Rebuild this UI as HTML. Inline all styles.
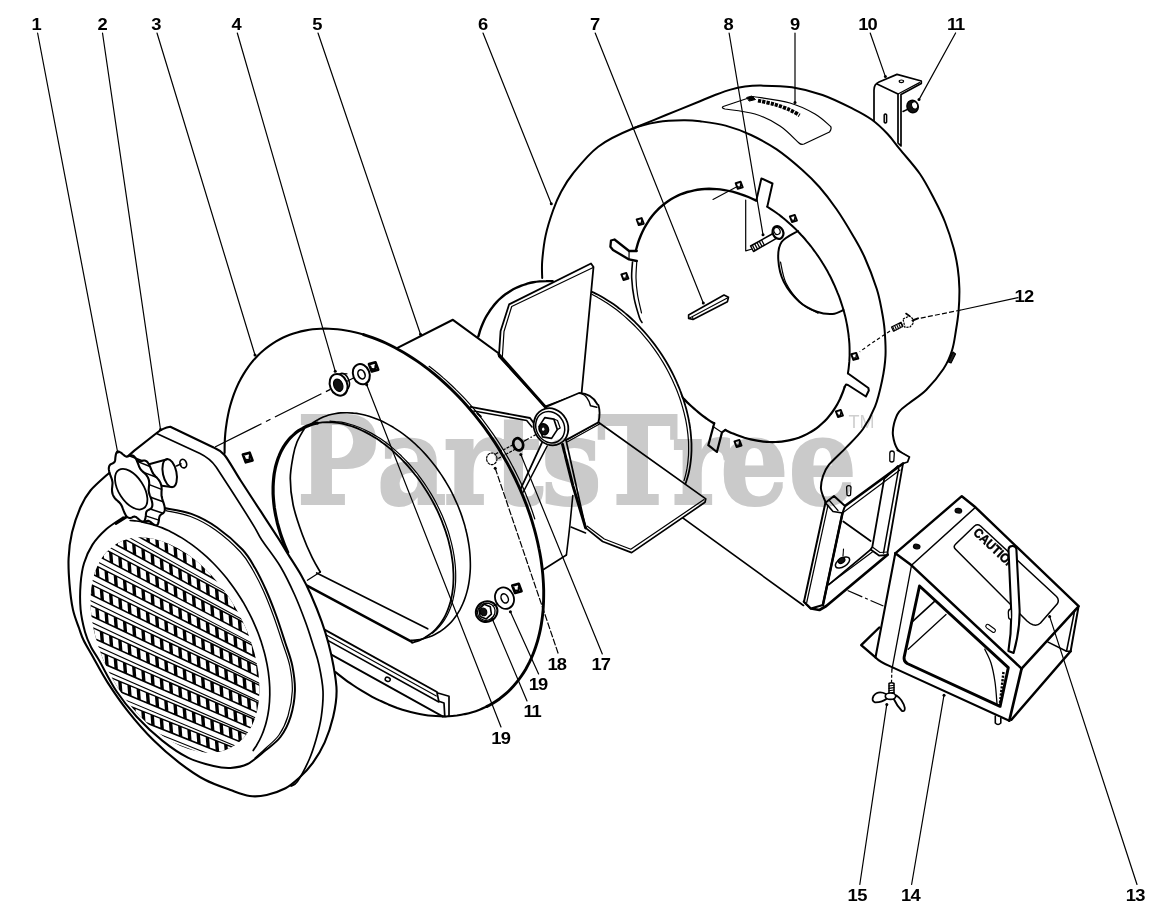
<!DOCTYPE html>
<html><head><meta charset="utf-8"><title>Parts Diagram</title>
<style>
html,body{margin:0;padding:0;background:#fff;}
body{width:1175px;height:921px;overflow:hidden;position:relative;}
svg{display:block;position:absolute;left:0;top:0;}
svg path,svg ellipse{stroke-linecap:round;stroke-linejoin:round;}
.wm{mix-blend-mode:multiply;}
</style></head><body>
<svg width="1175" height="921" viewBox="0 0 1175 921">
<rect x="0" y="0" width="1175" height="921" fill="#fff"/>
<path d="M874,128 L874,90 Q874,84 879,82 L897,74.4 L921.3,81 L921.3,83.6 L901,94.5 L901,146 L898,143 L898,94 L877,84" fill="#fff" stroke="#000" stroke-width="1.7" />
<path d="M898,94 L919.5,82.6" fill="none" stroke="#000" stroke-width="1.2" />
<ellipse cx="901.4" cy="81.3" rx="2.2" ry="1.3" transform="rotate(0 901.4 81.3)" fill="none" stroke="#000" stroke-width="1.2" />
<path d="M884.2,115 L884.2,122 Q885.4,124 886.6,122 L886.6,115 Q885.4,113 884.2,115Z" fill="none" stroke="#000" stroke-width="1.5" />
<ellipse cx="912.6" cy="106.5" rx="5.6" ry="6.3" transform="rotate(-20 912.6 106.5)" fill="#111" stroke="#000" stroke-width="1.5" />
<ellipse cx="914.6" cy="105.4" rx="2.9" ry="3.7" transform="rotate(-20 914.6 105.4)" fill="#fff" stroke="#000" stroke-width="1" />
<path d="M903,111.5 L907.5,109.3" fill="none" stroke="#000" stroke-width="1.5" />
<path d="M542.2,278 C542.2,275.2 541.6,268.1 542.2,261 C542.8,253.9 543.8,244.1 545.6,235.6 C547.4,227.1 550.6,217.3 553.2,210 C555.8,202.7 557.8,198 561,192 C564.2,186 566.4,181.6 572.6,174 C578.8,166.4 588.2,154.2 598.2,146.7 C608.2,139.2 626.6,131.8 632.3,128.8 L632.3,128.8 C637.9,126.5 654.7,119.6 666,115 C677.3,110.4 691.8,104.5 700,101.2 C708.2,97.9 709.9,96.9 715,95 C720.1,93.1 725.6,91 730.6,89.6 C735.6,88.2 739.9,87.3 745,86.6 C750.1,85.9 753.2,85.5 761,85.6 C768.8,85.7 781.8,85.7 792,87.3 C802.2,88.9 812.3,91.4 822.5,95 C832.7,98.6 844.8,104.7 853,108.8 C861.2,112.9 865.8,115.3 871.6,119.5 C877.4,123.7 882.9,129 887.6,134 C892.3,139 894.6,142.7 900,149.4 C905.4,156.1 914.2,165.6 920,174 C925.8,182.4 930.5,192 934.7,200 C938.9,208 941.9,214.1 945,222 C948.1,229.9 951.4,240 953.5,247.7 C955.6,255.4 956.7,261.2 957.7,268 C958.7,274.8 959.2,281.6 959.4,288.7 C959.5,295.8 959.2,303.9 958.6,310.8 C958,317.7 957.1,323.4 956,330 C954.9,336.6 954.1,344 952,350.5 C949.9,357 947.7,362.5 943.4,369 C939.1,375.5 932.1,384 926.4,389.7 C920.7,395.4 914,399.3 909.4,403 C904.8,406.7 901.6,408.3 899,411.8 C896.4,415.3 895,419.8 894,423.8 C893,427.8 892.4,431.5 893,435.7 C893.6,439.9 895,445.4 897.4,449 C899.8,452.6 905.9,455.7 907.6,457 L903,465 L886,556 L806,606 L690,508 Z" fill="#fff" stroke="none" stroke-width="0" />
<path d="M542.2,278 C542.2,275.2 541.6,268.1 542.2,261 C542.8,253.9 543.8,244.1 545.6,235.6 C547.4,227.1 550.6,217.3 553.2,210 C555.8,202.7 557.8,198 561,192 C564.2,186 566.4,181.6 572.6,174 C578.8,166.4 588.2,154.2 598.2,146.7 C608.2,139.2 622.3,132.9 632.3,128.8 C642.2,124.7 649.4,123.4 657.9,122 C666.4,120.6 676.5,120.4 683.5,120.3 C690.5,120.2 693,120.4 700,121.3 C707,122.2 717.1,123.3 725.6,125.6 C734.1,127.9 742.5,131 751,135 C759.5,139 768.2,143.6 776.7,149.4 C785.2,155.2 795.2,163.7 802.3,170 C809.4,176.3 813.7,180.5 819.4,187 C825.1,193.5 830.7,200.8 836.4,209 C842.1,217.2 848.8,228.4 853.5,236.4 C858.2,244.4 860.6,248.3 864.5,257 C868.4,265.7 873.8,279.7 876.7,288.7 C879.6,297.7 880.5,303.9 881.8,310.8 C883.1,317.7 884,322.5 884.6,330 C885.2,337.5 885.9,347.1 885.5,355.6 C885.1,364.1 883.8,372.5 882,381 C880.2,389.5 878.2,398.7 875,406.7 C871.8,414.7 867.8,422.2 863,429 C858.2,435.8 851.7,441.7 846,447.6 C840.3,453.6 832.8,460 829,464.7 C825.2,469.4 824.3,471.9 823,476 C821.7,480.1 820.6,484.7 821,489 C821.4,493.3 824.7,499.8 825.4,502" fill="none" stroke="#000" stroke-width="2" />
<path d="M632.3,128.8 C637.9,126.5 654.7,119.6 666,115 C677.3,110.4 691.8,104.5 700,101.2 C708.2,97.9 709.9,96.9 715,95 C720.1,93.1 725.6,91 730.6,89.6 C735.6,88.2 739.9,87.3 745,86.6 C750.1,85.9 753.2,85.5 761,85.6 C768.8,85.7 781.8,85.7 792,87.3 C802.2,88.9 812.3,91.4 822.5,95 C832.7,98.6 844.8,104.7 853,108.8 C861.2,112.9 865.8,115.3 871.6,119.5 C877.4,123.7 882.9,129 887.6,134 C892.3,139 894.6,142.7 900,149.4 C905.4,156.1 914.2,165.6 920,174 C925.8,182.4 930.5,192 934.7,200 C938.9,208 941.9,214.1 945,222 C948.1,229.9 951.4,240 953.5,247.7 C955.6,255.4 956.7,261.2 957.7,268 C958.7,274.8 959.2,281.6 959.4,288.7 C959.5,295.8 959.2,303.9 958.6,310.8 C958,317.7 957.1,323.4 956,330 C954.9,336.6 954.1,344 952,350.5 C949.9,357 947.7,362.5 943.4,369 C939.1,375.5 932.1,384 926.4,389.7 C920.7,395.4 914,399.3 909.4,403 C904.8,406.7 901.6,408.3 899,411.8 C896.4,415.3 895,419.8 894,423.8 C893,427.8 892.4,431.5 893,435.7 C893.6,439.9 895,445.4 897.4,449 C899.8,452.6 905.9,455.7 907.6,457" fill="none" stroke="#000" stroke-width="2" />
<path d="M668,507.2 L803.5,605.5" fill="none" stroke="#000" stroke-width="1.6" />
<path d="M635.9,250.5 C636.3,249.2 637.3,245.2 638.1,242.7 C638.9,240.1 639.9,237.7 640.9,235.3 C641.9,232.9 643,230.6 644.2,228.3 C645.4,226.1 646.6,223.9 648,221.8 C649.3,219.7 650.8,217.7 652.3,215.8 C653.8,213.9 655.4,212.1 657.1,210.4 C658.8,208.6 660.5,207 662.4,205.5 C664.2,203.9 666.1,202.5 668,201.2 C670,199.8 672,198.6 674.1,197.5 C676.2,196.4 678.3,195.3 680.5,194.4 C682.7,193.5 685,192.7 687.3,192 C689.6,191.3 691.9,190.8 694.3,190.3 C696.7,189.8 699.1,189.5 701.6,189.2 C704.1,189 706.6,188.9 709.1,188.8 C711.6,188.8 714.2,188.9 716.8,189.1 C719.4,189.3 722,189.7 724.6,190.1 C727.2,190.5 729.9,191.1 732.5,191.7 C735.1,192.4 737.8,193.2 740.4,194.1 C743.1,194.9 745.7,195.9 748.4,197 C751,198.1 755,200 756.3,200.6" fill="none" stroke="#000" stroke-width="2.4" />
<path d="M767.3,206.7 C768.1,207.3 770.8,208.9 772.5,210.1 C774.3,211.3 776,212.5 777.7,213.8 C779.4,215 781.1,216.4 782.8,217.7 C784.5,219.1 786.1,220.4 787.8,221.9 C789.4,223.3 791,224.8 792.6,226.3 C794.2,227.8 795.8,229.3 797.4,230.9 C798.9,232.5 800.5,234.1 802,235.8 C803.5,237.4 805,239.1 806.4,240.8 C807.9,242.5 809.3,244.3 810.7,246 C812.1,247.8 813.4,249.6 814.8,251.5 C816.1,253.3 817.4,255.1 818.7,257 C820,258.9 821.2,260.8 822.4,262.8 C823.6,264.7 824.8,266.6 825.9,268.6 C827.1,270.6 828.2,272.6 829.2,274.6 C830.3,276.6 831.3,278.6 832.3,280.7 C833.3,282.7 834.2,284.8 835.1,286.8 C836,288.9 836.9,291 837.7,293.1 C838.6,295.1 839.4,297.2 840.1,299.4 C840.8,301.5 841.5,303.6 842.2,305.7 C842.9,307.8 843.5,309.9 844.1,312 C844.6,314.2 845.2,316.3 845.7,318.4 C846.1,320.5 846.6,322.7 847,324.8 C847.4,326.9 847.7,329 848,331.1 C848.4,333.2 848.6,335.3 848.8,337.4 C849.1,339.5 849.2,341.6 849.4,343.7 C849.5,345.7 849.6,347.8 849.6,349.8 C849.6,351.9 849.6,353.9 849.6,355.9 C849.5,357.9 849.4,359.9 849.3,361.9 C849.1,363.9 848.9,365.8 848.7,367.8 C848.5,369.7 848,372.5 847.9,373.5" fill="none" stroke="#000" stroke-width="2" />
<path d="M844.6,387 C844.3,388 843.3,391.1 842.5,393 C841.7,395 840.9,396.9 840.1,398.8 C839.2,400.6 838.3,402.5 837.3,404.2 C836.3,406 835.2,407.7 834.1,409.4 C833.1,411 831.9,412.7 830.7,414.2 C829.5,415.8 828.3,417.3 827,418.7 C825.7,420.1 824.3,421.5 822.9,422.8 C821.5,424.1 820.1,425.4 818.6,426.6 C817.1,427.8 815.6,428.9 814,430 C812.4,431 810.8,432 809.1,432.9 C807.5,433.9 805.8,434.7 804,435.5 C802.3,436.3 800.5,437 798.7,437.7 C796.9,438.3 795.1,438.9 793.2,439.4 C791.4,439.9 789.5,440.4 787.6,440.7 C785.6,441.1 783.7,441.4 781.7,441.6 C779.7,441.8 777.7,442 775.7,442 C773.7,442.1 771.7,442.1 769.6,442 C767.6,442 765.5,441.8 763.4,441.6 C761.3,441.4 759.3,441.1 757.2,440.7 C755,440.4 752.9,439.9 750.8,439.4 C748.7,438.9 746.6,438.3 744.5,437.7 C742.3,437 740.2,436.3 738.1,435.5 C736,434.7 733.8,433.9 731.7,433 C729.6,432 726.4,430.5 725.4,430" fill="none" stroke="#000" stroke-width="2.2" />
<path d="M714.1,423.6 C713.4,423.1 711.1,421.7 709.6,420.7 C708.1,419.6 706.6,418.6 705.1,417.5 C703.6,416.4 702.1,415.3 700.6,414.1 C699.2,413 697.7,411.8 696.3,410.5 C694.8,409.3 693.4,408.1 692,406.8 C690.6,405.5 689.2,404.2 687.8,402.9 C686.5,401.5 685.1,400.2 683.8,398.8 C682.4,397.4 680.5,395.3 679.8,394.6" fill="none" stroke="#000" stroke-width="2.2" />
<path d="M636.8,251 L629.1,251 L614.5,239.5 L611,240.5 L610.4,246.7 L613,250 L629,259.4 L636.8,261" fill="none" stroke="#000" stroke-width="2.3" />
<path d="M629.1,251 L629,259.4" fill="none" stroke="#000" stroke-width="1.2" />
<path d="M756.3,200.6 L761.4,178.4 L772.5,183.5 L767.3,206.6" fill="none" stroke="#000" stroke-width="2" />
<path d="M848.8,374 L868.4,388 L868.8,390.5 L865.9,396.5 L848,385 L846,384.6 L844.6,387" fill="none" stroke="#000" stroke-width="2" />
<path d="M725.4,429.8 L722,432.4 L716.9,452 L708.3,445.2 L714.3,423" fill="none" stroke="#000" stroke-width="2.2" />
<path d="M722,432.4 L713,426.5" fill="none" stroke="#000" stroke-width="1.2" />
<path d="M632.5,262 C632.4,264.7 631.4,271.9 631.7,278 C632,284.1 632.9,292.1 634.2,298.7 C635.5,305.3 638.1,313.4 639.4,317.4 C640.7,321.4 641.6,321.6 642,322.5" fill="none" stroke="#000" stroke-width="1.6" />
<path d="M636.8,261 C636.7,263.8 635.9,272.3 636,278 C636.1,283.7 636.7,289.2 637.6,295 C638.5,300.8 640.9,310 641.5,313" fill="none" stroke="#000" stroke-width="1.2" />
<path d="M798,231 C795.3,232.8 784.9,237.2 781.6,242 C778.3,246.8 777.9,253.1 778.3,259.7 C778.7,266.3 780.3,274.8 783.8,281.8 C787.3,288.8 793.8,296.7 799.3,301.7 C804.8,306.7 811.5,309.6 817,311.7 C822.5,313.8 828.2,314.3 832.6,314 C837,313.7 841.7,310.7 843.5,310" fill="none" stroke="#000" stroke-width="2" />
<path d="M780.5,262 C781.4,265.5 782.6,276.2 786,283 C789.4,289.8 795.7,297.9 801,303 C806.3,308.1 815.2,311.6 818,313.3" fill="none" stroke="#000" stroke-width="1.2" />
<path d="M735.7,183.2 L740.6,181.8 L742.7,187.4 L737.8,188.8Z" fill="#fff" stroke="#000" stroke-width="2" stroke-linejoin="miter"/>
<path d="M738.3,186.9 L740.4,187.2 L740.6,184.4" fill="none" stroke="#000" stroke-width="1.4" />
<path d="M636.7,219.5 L641.6,218.1 L643.7,223.7 L638.8,225.1Z" fill="#fff" stroke="#000" stroke-width="2" stroke-linejoin="miter"/>
<path d="M639.3,223.2 L641.4,223.5 L641.6,220.7" fill="none" stroke="#000" stroke-width="1.4" />
<path d="M621.4,274.4 L626.3,273 L628.4,278.6 L623.5,280Z" fill="#fff" stroke="#000" stroke-width="2" stroke-linejoin="miter"/>
<path d="M624,278.1 L626.1,278.4 L626.3,275.6" fill="none" stroke="#000" stroke-width="1.4" />
<path d="M789.9,216.4 L794.8,215 L796.9,220.6 L792,222Z" fill="#fff" stroke="#000" stroke-width="2" stroke-linejoin="miter"/>
<path d="M792.5,220.1 L794.6,220.4 L794.8,217.6" fill="none" stroke="#000" stroke-width="1.4" />
<path d="M851.3,354.3 L856.2,352.9 L858.3,358.5 L853.4,359.9Z" fill="#fff" stroke="#000" stroke-width="2" stroke-linejoin="miter"/>
<path d="M853.9,358 L856,358.3 L856.2,355.5" fill="none" stroke="#000" stroke-width="1.4" />
<path d="M835.9,411.4 L840.8,410 L842.9,415.6 L838,417Z" fill="#fff" stroke="#000" stroke-width="2" stroke-linejoin="miter"/>
<path d="M838.5,415.1 L840.6,415.4 L840.8,412.6" fill="none" stroke="#000" stroke-width="1.4" />
<path d="M734.5,441.4 L739.4,440 L741.5,445.6 L736.6,447Z" fill="#fff" stroke="#000" stroke-width="2" stroke-linejoin="miter"/>
<path d="M737.1,445.1 L739.2,445.4 L739.4,442.6" fill="none" stroke="#000" stroke-width="1.4" />
<path d="M745.7,200 L745.7,250.8 L752,249" fill="none" stroke="#000" stroke-width="1.2" />
<path d="M713,199.4 L737.3,186.6" fill="none" stroke="#000" stroke-width="1.1" />
<path d="M750.6,246 L773,233.5 L776,238.6 L753.5,251.5Z" fill="#fff" stroke="#000" stroke-width="1.5" />
<path d="M752.5,245.4 L755.1,250.2" fill="none" stroke="#000" stroke-width="1.2" />
<path d="M754.8,244.1 L757.4,248.9" fill="none" stroke="#000" stroke-width="1.2" />
<path d="M757.1,242.8 L759.7,247.6" fill="none" stroke="#000" stroke-width="1.2" />
<path d="M759.4,241.6 L762,246.4" fill="none" stroke="#000" stroke-width="1.2" />
<path d="M761.7,240.3 L764.3,245.1" fill="none" stroke="#000" stroke-width="1.2" />
<ellipse cx="778" cy="232.5" rx="5.2" ry="6.5" transform="rotate(-25 778 232.5)" fill="#fff" stroke="#000" stroke-width="2.2" />
<ellipse cx="777" cy="231" rx="3" ry="3.6" transform="rotate(-25 777 231)" fill="none" stroke="#000" stroke-width="1.2" />
<path d="M688.6,315 L724,295 L728.5,297.3 L727.4,301.7 L693,319.5 L688.6,318.4Z" fill="#fff" stroke="#000" stroke-width="1.6" />
<path d="M688.6,318.4 L692.5,316.5 L727.8,297.8" fill="none" stroke="#000" stroke-width="1.1" />
<path d="M692.5,316.5 L693,319.5" fill="none" stroke="#000" stroke-width="1.1" />
<path d="M723.2,106.5 L753,96.5 L753,96.5 C759.2,97.6 779.7,100.1 790,103 C800.3,105.9 808.2,110.1 815,114 C821.8,117.9 828,124.3 830.6,126.4 Q832,129 829.5,132 L804,144 Q801,145 799,143 L799,143 C795.8,140.2 787.3,130.8 780,126 C772.7,121.2 764.2,116.8 755,114 C745.8,111.2 730,109.8 725,109 Q721,108 723.2,106.5Z" fill="none" stroke="#000" stroke-width="1.2" />
<path d="M747,97.4 L752,96 L755.5,99.5 L749.5,101Z" fill="#000" stroke="#000" stroke-width="1" />
<path d="M758,100.6 C760.8,101.2 769.7,102.9 775,104.5 C780.3,106.1 785.9,108.2 790,110 C794.1,111.8 798,114.4 799.6,115.3" fill="none" stroke="#000" stroke-width="3.8" stroke-dasharray="3.2 1.1"  style="stroke-linecap:butt"/>
<path d="M948.5,362 L953,352 L955.5,354 L951,363Z" fill="#222" stroke="#000" stroke-width="1.2" />
<path d="M897.4,450.2 L909.4,457 L907.6,462 L903,463.5 L887.6,552 L887.6,555 L879,555.6 L870.6,549.6 L872.3,547 L884.2,478.9 L898,466" fill="#fff" stroke="#000" stroke-width="1.8" />
<path d="M898.7,468.6 L883.5,553" fill="none" stroke="#000" stroke-width="1.5" />
<path d="M872.3,547 L880,552.5 L887.6,552" fill="none" stroke="#000" stroke-width="1.2" />
<path d="M845,506 L903,463.5" fill="none" stroke="#000" stroke-width="2.7" />
<path d="M842.5,513 L900,470" fill="none" stroke="#000" stroke-width="1.2" />
<path d="M843.3,521.5 L870.6,541" fill="none" stroke="#000" stroke-width="1.8" />
<path d="M870.6,549.6 L828.8,584.6" fill="none" stroke="#000" stroke-width="1.8" />
<path d="M887.6,554.7 L826.3,606 L819.4,610 L811,608.5 L804,601.6" fill="none" stroke="#000" stroke-width="2.7" />
<path d="M872.3,552 L828.8,584.6" fill="none" stroke="#000" stroke-width="1.2" />
<path d="M825.4,502.7 L834,496 L845,506 L842.5,513 L822.9,605 L811,608.5 L804,601.6Z" fill="#fff" stroke="#000" stroke-width="2" />
<path d="M842.5,513 L822.9,605" fill="none" stroke="#000" stroke-width="2.5" />
<path d="M828,505.3 L806.7,602.5" fill="none" stroke="#000" stroke-width="1.2" />
<path d="M825.4,502.7 L833,511.5 L842.5,513" fill="none" stroke="#000" stroke-width="1.6" />
<path d="M829,500 L838,510.5" fill="none" stroke="#000" stroke-width="1.2" />
<path d="M889.8,453.5 Q889.8,451 892,451 Q894.3,451 894.3,453.5 L893.8,461 Q891.8,463 889.8,461Z" fill="#fff" stroke="#000" stroke-width="1.3" />
<path d="M846.6,487.5 Q846.6,485.6 848.8,485.6 Q851,485.6 851,487.5 L850.5,495 Q848.8,496.5 847,495Z" fill="#fff" stroke="#000" stroke-width="1.3" />
<ellipse cx="842.5" cy="562.5" rx="8" ry="4.2" transform="rotate(-32 842.5 562.5)" fill="#fff" stroke="#000" stroke-width="1.5" />
<ellipse cx="841.5" cy="560.5" rx="3.6" ry="2.6" transform="rotate(-32 841.5 560.5)" fill="#111" stroke="#000" stroke-width="1.2" />
<path d="M843.5,549 L843,556" fill="none" stroke="#000" stroke-width="1.1" />
<path d="M477.6,336 C478.9,333.3 482,325.4 485.3,319.8 C488.6,314.2 492.1,308 497.2,302.7 C502.3,297.4 509.5,291.6 516,288 C522.5,284.4 530.3,282.6 536.4,281.4 C542.5,280.2 549.9,280.7 552.6,280.6 L591.6,291 C595.3,293.4 605.8,299.4 613.8,305.5 C621.8,311.6 632.2,320.8 639.3,327.6 C646.4,334.4 651.4,340 656.4,346.4 C661.4,352.8 665.6,359.8 669,366 C672.4,372.2 674.8,377.8 677,383.5 C679.2,389.2 680.7,394.4 682.5,400 C684.3,405.6 686.4,411.3 687.9,417 C689.4,422.7 690.6,428.4 691.3,434.1 C692,439.8 692.4,445.5 692.1,451.2 C691.8,456.9 690.7,462.8 689.6,468.2 C688.5,473.6 686,480.9 685.3,483.5 L650,540 L600,548 L585.6,528 L563,444 L545,407 L498.9,354.5Z" fill="#fff" stroke="none" stroke-width="0" />
<path d="M478.3,336.5 C478.7,335.4 479.6,332.1 480.3,329.9 C481,327.8 481.8,325.7 482.7,323.7 C483.6,321.7 484.5,319.7 485.5,317.8 C486.5,315.9 487.6,314.1 488.8,312.3 C489.9,310.5 491.1,308.8 492.4,307.2 C493.7,305.5 495,303.9 496.4,302.4 C497.8,300.9 499.2,299.5 500.7,298.2 C502.2,296.8 503.8,295.5 505.4,294.3 C507.1,293.1 508.7,292 510.5,290.9 C512.2,289.9 514,288.9 515.8,288 C517.6,287.1 519.5,286.3 521.4,285.6 C523.3,284.9 525.3,284.3 527.2,283.7 C529.2,283.2 531.3,282.7 533.3,282.3 C535.4,281.9 537.5,281.6 539.6,281.4 C541.8,281.2 543.9,281.1 546.1,281.1 C548.3,281 551.6,281.2 552.7,281.2" fill="none" stroke="#000" stroke-width="2.4" />
<path d="M591.6,291.6 C592.7,292.1 595.9,293.7 598.1,294.8 C600.3,296 602.5,297.2 604.6,298.5 C606.8,299.8 608.9,301.2 611,302.6 C613.2,304 615.3,305.5 617.4,307 C619.4,308.6 621.5,310.2 623.6,311.9 C625.6,313.5 627.6,315.3 629.6,317 C631.6,318.8 633.5,320.7 635.5,322.6 C637.4,324.4 639.3,326.4 641.1,328.4 C643,330.4 644.8,332.4 646.6,334.5 C648.4,336.6 650.1,338.7 651.8,340.9 C653.5,343 655.2,345.2 656.8,347.5 C658.4,349.7 660,352 661.5,354.3 C663,356.6 664.5,359 665.9,361.3 C667.3,363.7 668.7,366.1 670,368.5 C671.3,370.9 672.6,373.4 673.8,375.8 C675,378.3 676.2,380.8 677.2,383.3 C678.3,385.8 679.4,388.3 680.3,390.8 C681.3,393.3 682.2,395.9 683.1,398.4 C683.9,400.9 684.7,403.5 685.4,406 C686.2,408.5 686.8,411.1 687.4,413.6 C688,416.1 688.6,418.7 689,421.2 C689.5,423.7 689.9,426.2 690.2,428.7 C690.6,431.2 690.8,433.7 691,436.2 C691.2,438.6 691.4,441.1 691.5,443.5 C691.5,445.9 691.5,448.3 691.5,450.7 C691.4,453.1 691.3,455.4 691.1,457.7 C690.9,460 690.6,462.3 690.3,464.6 C689.9,466.8 689.6,469 689.1,471.2 C688.6,473.4 688.1,475.5 687.5,477.6 C686.9,479.6 685.9,482.7 685.5,483.7" fill="none" stroke="#000" stroke-width="1.8" />
<path d="M592,294.3 C593,294.9 596.2,296.5 598.2,297.7 C600.3,298.8 602.4,300.1 604.5,301.4 C606.5,302.7 608.6,304 610.6,305.4 C612.6,306.8 614.6,308.3 616.6,309.8 C618.6,311.4 620.6,313 622.5,314.6 C624.5,316.2 626.4,317.9 628.3,319.7 C630.2,321.4 632.1,323.2 633.9,325 C635.7,326.9 637.5,328.7 639.3,330.7 C641.1,332.6 642.8,334.6 644.5,336.6 C646.2,338.6 647.9,340.6 649.5,342.7 C651.1,344.8 652.7,347 654.3,349.1 C655.8,351.3 657.3,353.5 658.8,355.7 C660.2,357.9 661.6,360.2 663,362.4 C664.4,364.7 665.7,367 666.9,369.3 C668.2,371.7 669.4,374 670.6,376.4 C671.8,378.7 672.9,381.1 673.9,383.5 C675,385.9 676,388.3 677,390.7 C677.9,393.1 678.8,395.6 679.7,398 C680.5,400.4 681.3,402.9 682,405.3 C682.7,407.7 683.4,410.2 684,412.6 C684.6,415.1 685.2,417.5 685.7,419.9 C686.2,422.3 686.6,424.8 687,427.2 C687.3,429.6 687.6,432 687.9,434.4 C688.1,436.7 688.3,439.1 688.5,441.5 C688.6,443.8 688.6,446.1 688.6,448.4 C688.6,450.7 688.6,453 688.5,455.3 C688.3,457.5 688.1,459.7 687.9,461.9 C687.7,464.1 687.3,466.3 687,468.4 C686.6,470.5 686.2,472.6 685.7,474.7 C685.2,476.8 684.3,479.7 684,480.7" fill="none" stroke="#000" stroke-width="1.2" />
<path d="M598.4,422.2 L705.8,498.9 L705,502.3 L631.6,552.6 L602.6,541.5 L585.6,527.9 L566,440Z" fill="#fff" stroke="#000" stroke-width="1.7" />
<path d="M704,499.6 L630.8,549.2 L604.3,539 L587.3,526.2" fill="none" stroke="#000" stroke-width="1.2" />
<path d="M562.5,444.3 L572.8,485.3 L585.6,527.9" fill="none" stroke="#000" stroke-width="2.9" />
<path d="M572.8,495.5 C572.2,501.2 570.5,519.7 569.4,529.6 C568.3,539.5 566.9,550.8 566.4,555" fill="none" stroke="#000" stroke-width="1.6" />
<path d="M571,527 L585.6,533" fill="none" stroke="#000" stroke-width="1.5" />
<path d="M509.1,304.4 L591,263.5 L593.5,267 L581.6,393 L545,406.7 L498.9,356.4 L500.6,330.9Z" fill="#fff" stroke="#000" stroke-width="1.8" />
<path d="M593.2,267.5 L511.7,306.5 L504,331.5 L502.3,357.5" fill="none" stroke="#000" stroke-width="1.2" />
<path d="M546,407 L579,393 Q592,393.5 597.5,404.5 L598.4,405 Q600.8,413 598.4,422.2 L566,440Z" fill="#fff" stroke="#000" stroke-width="1.8" />
<path d="M581.6,393.6 Q588,396 590.5,405.8 L596.8,407.3" fill="none" stroke="#000" stroke-width="1.5" />
<path d="M567.5,441.8 L599.5,424" fill="none" stroke="#000" stroke-width="1.2" />
<path d="M470.5,406.8 L530,418 L534.4,423.9" fill="none" stroke="#000" stroke-width="1.8" />
<path d="M473.9,411 L526.7,420.5 L532,427" fill="none" stroke="#000" stroke-width="1.5" />
<path d="M477.5,413.5 L480.8,416.5" fill="none" stroke="#000" stroke-width="2" />
<path d="M542,442.6 L520.8,488.7" fill="none" stroke="#000" stroke-width="1.8" />
<path d="M547.2,446 L523.3,492" fill="none" stroke="#000" stroke-width="1.6" />
<ellipse cx="551" cy="426.8" rx="16.8" ry="19" transform="rotate(-28 551 426.8)" fill="#fff" stroke="#000" stroke-width="1.8" />
<ellipse cx="550.2" cy="427.2" rx="14" ry="16.2" transform="rotate(-28 550.2 427.2)" fill="none" stroke="#000" stroke-width="1.5" />
<path d="M557.3,429.6 L551.6,438.4 L542.5,436.8 L539.1,426.4 L544.8,417.6 L553.9,419.2Z" fill="#fff" stroke="#000" stroke-width="1.7" />
<path d="M554.4,419.2 L557.5,420.5 L560.2,428 L557.3,429.6" fill="none" stroke="#000" stroke-width="1.2" />
<ellipse cx="543.8" cy="429.2" rx="4.6" ry="5.6" transform="rotate(-20 543.8 429.2)" fill="#111" stroke="#000" stroke-width="1.5" />
<ellipse cx="543.2" cy="429.2" rx="1.2" ry="1.6" transform="rotate(0 543.2 429.2)" fill="#fff" stroke="none" stroke-width="0.7" />
<path d="M398,347.6 L452.9,319.8 L498.9,353.5" fill="none" stroke="#000" stroke-width="2.1" />
<path d="M498.9,354.5 L545.4,407" fill="none" stroke="#000" stroke-width="2.9" />
<path d="M566.4,555 L543.5,569.5" fill="none" stroke="#000" stroke-width="1.6" />
<path d="M224.6,453.1 C224.6,451.4 224.6,446.4 224.7,443.1 C224.8,439.8 225,436.5 225.3,433.3 C225.6,430.1 226,426.9 226.5,423.8 C226.9,420.7 227.5,417.6 228.1,414.6 C228.7,411.6 229.4,408.7 230.2,405.8 C231,402.9 231.8,400.1 232.8,397.3 C233.7,394.6 234.8,391.9 235.9,389.2 C237,386.6 238.1,384.1 239.4,381.6 C240.6,379.1 242,376.7 243.4,374.4 C244.8,372 246.2,369.8 247.8,367.6 C249.3,365.4 251,363.3 252.6,361.3 C254.3,359.3 256.1,357.4 257.9,355.5 C259.7,353.7 261.6,352 263.6,350.3 C265.5,348.6 267.5,347.1 269.6,345.6 C271.7,344.1 273.8,342.7 276,341.4 C278.2,340.1 280.4,338.9 282.7,337.8 C285,336.7 287.4,335.7 289.8,334.8 C292.2,333.9 294.6,333.1 297.1,332.4 C299.6,331.7 302.1,331.1 304.7,330.6 C307.3,330.1 309.9,329.6 312.6,329.3 C315.3,329 318,328.8 320.7,328.7 C323.4,328.6 326.2,328.6 329,328.7 C331.8,328.8 334.6,329 337.4,329.3 C340.3,329.6 343.1,330 346,330.5 C348.9,331 351.8,331.6 354.8,332.3 C357.7,333 360.6,333.7 363.6,334.6 C366.5,335.5 369.5,336.5 372.5,337.6 C375.4,338.7 378.4,339.9 381.4,341.2 C384.3,342.4 387.3,343.8 390.3,345.3 C393.3,346.8 396.2,348.3 399.2,350 C402.2,351.6 405.1,353.3 408.1,355.2 C411,357 413.9,358.9 416.8,360.9 C419.8,362.9 422.7,365 425.5,367.2 C428.4,369.3 431.3,371.6 434.1,373.9 C436.9,376.2 439.7,378.6 442.5,381.1 C445.2,383.5 448,386.1 450.7,388.7 C453.4,391.3 456.1,394 458.7,396.8 C461.3,399.5 463.9,402.3 466.5,405.2 C469,408.1 471.5,411 474,414 C476.4,417 478.9,420.1 481.2,423.2 C483.6,426.3 485.9,429.4 488.1,432.6 C490.4,435.8 492.6,439.1 494.8,442.4 C496.9,445.7 499,449 501,452.4 C503,455.8 505,459.2 506.9,462.6 C508.8,466 510.6,469.5 512.4,473 C514.2,476.5 515.9,480 517.5,483.6 C519.2,487.1 520.7,490.7 522.2,494.2 C523.7,497.8 525.1,501.4 526.5,505 C527.8,508.6 529.1,512.2 530.3,515.8 C531.5,519.4 532.6,523.1 533.6,526.7 C534.7,530.3 535.6,533.9 536.5,537.5 C537.4,541.1 538.2,544.7 538.9,548.3 C539.7,551.9 540.3,555.4 540.9,559 C541.4,562.5 541.9,566.1 542.3,569.6 C542.7,573.1 543,576.6 543.2,580 C543.5,583.5 543.6,586.9 543.7,590.3 C543.7,593.7 543.7,597 543.6,600.3 C543.5,603.6 543.3,606.9 543.1,610.1 C542.8,613.3 542.5,616.5 542,619.7 C541.6,622.8 541.1,625.9 540.5,628.9 C539.9,631.9 539.2,634.9 538.4,637.8 C537.7,640.7 536.8,643.5 535.9,646.3 C535,649.1 534,651.8 532.9,654.5 C531.9,657.1 530.7,659.7 529.5,662.2 C528.2,664.7 526.9,667.1 525.6,669.5 C524.2,671.8 522.7,674.1 521.2,676.3 C519.7,678.5 518.1,680.6 516.4,682.7 C514.8,684.7 513,686.7 511.2,688.5 C509.4,690.4 507.6,692.2 505.6,693.9 C503.7,695.5 501.7,697.1 499.7,698.7 C497.6,700.2 495.5,701.6 493.3,702.9 C491.1,704.2 488.9,705.5 486.6,706.6 C484.4,707.7 482,708.8 479.6,709.7 C477.3,710.6 474.8,711.5 472.3,712.2 C469.9,713 467.3,713.6 464.8,714.1 C462.2,714.7 459.6,715.1 456.9,715.5 C454.3,715.8 451.6,716.1 448.9,716.2 C446.2,716.3 443.4,716.4 440.6,716.3 C437.8,716.2 435,716.1 432.2,715.8 C429.4,715.6 426.5,715.2 423.6,714.7 C420.7,714.3 417.8,713.7 414.9,713 C412,712.4 409,711.6 406.1,710.7 C403.2,709.9 400.2,708.9 397.2,707.9 C394.3,706.8 391.3,705.6 388.3,704.4 C385.3,703.2 382.4,701.8 379.4,700.4 C376.4,698.9 373.4,697.4 370.5,695.8 C367.5,694.2 364.6,692.5 361.6,690.7 C358.7,688.9 355.7,687 352.8,685 C349.9,683 347,681 344.1,678.8 C341.2,676.7 337,673.3 335.5,672.2Z" fill="#fff" stroke="none" stroke-width="0" />
<path d="M224.6,453.1 C224.6,451.4 224.6,446.4 224.7,443.1 C224.8,439.8 225,436.5 225.3,433.3 C225.6,430.1 226,426.9 226.5,423.8 C226.9,420.7 227.5,417.6 228.1,414.6 C228.7,411.6 229.4,408.7 230.2,405.8 C231,402.9 231.8,400.1 232.8,397.3 C233.7,394.6 234.8,391.9 235.9,389.2 C237,386.6 238.1,384.1 239.4,381.6 C240.6,379.1 242,376.7 243.4,374.4 C244.8,372 246.2,369.8 247.8,367.6 C249.3,365.4 251,363.3 252.6,361.3 C254.3,359.3 256.1,357.4 257.9,355.5 C259.7,353.7 261.6,352 263.6,350.3 C265.5,348.6 267.5,347.1 269.6,345.6 C271.7,344.1 273.8,342.7 276,341.4 C278.2,340.1 280.4,338.9 282.7,337.8 C285,336.7 287.4,335.7 289.8,334.8 C292.2,333.9 294.6,333.1 297.1,332.4 C299.6,331.7 302.1,331.1 304.7,330.6 C307.3,330.1 309.9,329.6 312.6,329.3 C315.3,329 318,328.8 320.7,328.7 C323.4,328.6 326.2,328.6 329,328.7 C331.8,328.8 334.6,329 337.4,329.3 C340.3,329.6 343.1,330 346,330.5 C348.9,331 351.8,331.6 354.8,332.3 C357.7,333 362.1,334.2 363.6,334.6" fill="none" stroke="#000" stroke-width="2.1" />
<path d="M363.6,334.6 C365.1,335.1 369.5,336.5 372.5,337.6 C375.4,338.7 378.4,339.9 381.4,341.2 C384.3,342.4 387.3,343.8 390.3,345.3 C393.3,346.8 396.2,348.3 399.2,350 C402.2,351.6 405.1,353.3 408.1,355.2 C411,357 413.9,358.9 416.8,360.9 C419.8,362.9 422.7,365 425.5,367.2 C428.4,369.3 431.3,371.6 434.1,373.9 C436.9,376.2 439.7,378.6 442.5,381.1 C445.2,383.5 448,386.1 450.7,388.7 C453.4,391.3 456.1,394 458.7,396.8 C461.3,399.5 463.9,402.3 466.5,405.2 C469,408.1 471.5,411 474,414 C476.4,417 478.9,420.1 481.2,423.2 C483.6,426.3 485.9,429.4 488.1,432.6 C490.4,435.8 492.6,439.1 494.8,442.4 C496.9,445.7 499,449 501,452.4 C503,455.8 505,459.2 506.9,462.6 C508.8,466 510.6,469.5 512.4,473 C514.2,476.5 515.9,480 517.5,483.6 C519.2,487.1 520.7,490.7 522.2,494.2 C523.7,497.8 525.1,501.4 526.5,505 C527.8,508.6 529.1,512.2 530.3,515.8 C531.5,519.4 532.6,523.1 533.6,526.7 C534.7,530.3 535.6,533.9 536.5,537.5 C537.4,541.1 538.2,544.7 538.9,548.3 C539.7,551.9 540.3,555.4 540.9,559 C541.4,562.5 541.9,566.1 542.3,569.6 C542.7,573.1 543,576.6 543.2,580 C543.5,583.5 543.6,586.9 543.7,590.3 C543.7,593.7 543.7,597 543.6,600.3 C543.5,603.6 543.3,606.9 543.1,610.1 C542.8,613.3 542.5,616.5 542,619.7 C541.6,622.8 541.1,625.9 540.5,628.9 C539.9,631.9 539.2,634.9 538.4,637.8 C537.7,640.7 536.8,643.5 535.9,646.3 C535,649.1 534,651.8 532.9,654.5 C531.9,657.1 530.7,659.7 529.5,662.2 C528.2,664.7 526.9,667.1 525.6,669.5 C524.2,671.8 522.7,674.1 521.2,676.3 C519.7,678.5 518.1,680.6 516.4,682.7 C514.8,684.7 513,686.7 511.2,688.5 C509.4,690.4 507.6,692.2 505.6,693.9 C503.7,695.5 501.7,697.1 499.7,698.7 C497.6,700.2 495.5,701.6 493.3,702.9 C491.1,704.2 487.8,706 486.6,706.6" fill="none" stroke="#000" stroke-width="2.9" />
<path d="M486.6,706.6 C485.5,707.1 482,708.8 479.6,709.7 C477.3,710.6 474.8,711.5 472.3,712.2 C469.9,713 467.3,713.6 464.8,714.1 C462.2,714.7 459.6,715.1 456.9,715.5 C454.3,715.8 451.6,716.1 448.9,716.2 C446.2,716.3 443.4,716.4 440.6,716.3 C437.8,716.2 435,716.1 432.2,715.8 C429.4,715.6 426.5,715.2 423.6,714.7 C420.7,714.3 417.8,713.7 414.9,713 C412,712.4 409,711.6 406.1,710.7 C403.2,709.9 400.2,708.9 397.2,707.9 C394.3,706.8 391.3,705.6 388.3,704.4 C385.3,703.2 382.4,701.8 379.4,700.4 C376.4,698.9 373.4,697.4 370.5,695.8 C367.5,694.2 364.6,692.5 361.6,690.7 C358.7,688.9 355.7,687 352.8,685 C349.9,683 347,681 344.1,678.8 C341.2,676.7 337,673.3 335.5,672.2" fill="none" stroke="#000" stroke-width="2.1" />
<path d="M429.1,366.3 C430.3,367.2 433.8,369.9 436.1,371.8 C438.4,373.6 440.7,375.6 443,377.6 C445.3,379.5 447.6,381.6 449.8,383.7 C452,385.7 454.2,387.9 456.4,390.1 C458.6,392.2 460.8,394.5 462.9,396.7 C465.1,399 467.2,401.3 469.3,403.6 C471.4,406 473.4,408.4 475.5,410.8 C477.5,413.2 479.5,415.7 481.4,418.2 C483.4,420.7 485.3,423.3 487.2,425.8 C489.1,428.4 491,431 492.8,433.7 C494.6,436.3 496.4,439 498.2,441.7 C499.9,444.3 501.6,447.1 503.3,449.8 C505,452.6 506.6,455.3 508.2,458.1 C509.8,460.9 511.3,463.8 512.8,466.6 C514.3,469.4 515.8,472.3 517.2,475.2 C518.6,478 520,480.9 521.3,483.8 C522.6,486.7 523.9,489.6 525.1,492.5 C526.3,495.5 527.5,498.4 528.6,501.3 C529.8,504.3 530.8,507.2 531.9,510.2 C532.9,513.1 534.3,517.6 534.8,519" fill="none" stroke="#000" stroke-width="1.2" />
<path d="M312,622.6 L437,692" fill="none" stroke="#000" stroke-width="1.8" />
<path d="M312,627 L436.3,696" fill="none" stroke="#000" stroke-width="1.2" />
<path d="M312,631.6 L438.8,702" fill="none" stroke="#000" stroke-width="1.6" />
<path d="M312,643.9 L443,716.6" fill="none" stroke="#000" stroke-width="1.8" />
<path d="M437,692.8 L449,696.2 L449,715.8 L444.8,716.6 L444,703 L438.8,701.3 L437,692.8" fill="#fff" stroke="#000" stroke-width="1.7" />
<ellipse cx="387.7" cy="679.3" rx="2.6" ry="2" transform="rotate(20 387.7 679.3)" fill="none" stroke="#000" stroke-width="1.5" />
<path d="M287.7,552.4 C287.2,551.2 285.6,547.5 284.6,545.1 C283.6,542.6 282.7,540.1 281.8,537.6 C280.9,535.1 280.1,532.6 279.4,530.1 C278.6,527.7 278,525.2 277.3,522.7 C276.7,520.2 276.2,517.7 275.7,515.3 C275.2,512.8 274.8,510.4 274.4,508 C274.1,505.5 273.8,503.1 273.6,500.8 C273.4,498.4 273.2,496 273.1,493.7 C273.1,491.4 273.1,489.1 273.1,486.8 C273.2,484.6 273.3,482.3 273.5,480.1 C273.7,478 273.9,475.8 274.2,473.7 C274.6,471.6 275,469.5 275.4,467.5 C275.9,465.5 276.4,463.6 277,461.7 C277.6,459.8 278.2,457.9 279,456.1 C279.7,454.3 280.5,452.6 281.3,450.9 C282.2,449.3 283.1,447.6 284,446.1 C285,444.6 286,443.1 287.1,441.7 C288.2,440.3 289.3,438.9 290.5,437.7 C291.7,436.4 293,435.2 294.3,434.1 C295.6,432.9 296.9,431.9 298.3,430.9 C299.7,430 301.2,429.1 302.7,428.3 C304.2,427.4 305.7,426.7 307.3,426 C308.9,425.4 310.5,424.8 312.2,424.3 C313.8,423.8 316.4,423.3 317.3,423.1" fill="none" stroke="#000" stroke-width="3.2" />
<path d="M317.3,423.1 C318.1,423 320.5,422.6 322.2,422.4 C323.8,422.3 325.5,422.2 327.2,422.1 C329,422.1 330.7,422.2 332.4,422.3 C334.2,422.4 336,422.6 337.8,422.9 C339.6,423.2 341.4,423.5 343.2,423.9 C345,424.3 346.8,424.8 348.7,425.4 C350.5,425.9 352.4,426.5 354.2,427.2 C356.1,427.9 358,428.7 359.8,429.5 C361.7,430.3 363.6,431.2 365.4,432.1 C367.3,433.1 369.2,434.1 371,435.2 C372.9,436.3 374.8,437.4 376.6,438.6 C378.4,439.8 380.3,441.1 382.1,442.4 C383.9,443.8 385.8,445.1 387.6,446.6 C389.3,448 391.1,449.5 392.9,451.1 C394.7,452.6 396.4,454.2 398.1,455.9 C399.9,457.5 401.6,459.2 403.2,461 C404.9,462.7 406.6,464.5 408.2,466.3 C409.8,468.2 411.4,470.1 412.9,472 C414.5,473.9 416,475.9 417.5,477.8 C419,479.8 420.5,481.9 421.9,483.9 C423.3,486 424.7,488.1 426,490.2 C427.4,492.3 428.7,494.5 429.9,496.6 C431.2,498.8 432.4,501 433.6,503.2 C434.8,505.4 435.9,507.7 437,509.9 C438,512.2 439.1,514.4 440,516.7 C441,519 442,521.3 442.8,523.6 C443.7,525.9 444.5,528.2 445.3,530.4 C446.1,532.7 446.8,535.1 447.5,537.3 C448.2,539.6 448.8,541.9 449.3,544.2 C449.9,546.5 450.4,548.8 450.9,551.1 C451.3,553.3 451.7,555.6 452,557.8 C452.4,560.1 452.6,562.3 452.9,564.5 C453.1,566.7 453.2,568.9 453.3,571.1 C453.5,573.2 453.5,575.4 453.5,577.5 C453.5,579.6 453.4,581.7 453.3,583.7 C453.2,585.8 453,587.8 452.7,589.8 C452.5,591.7 452.2,593.7 451.8,595.6 C451.5,597.5 451,599.4 450.6,601.2 C450.1,603 449.6,604.8 449,606.5 C448.4,608.2 447.8,609.9 447.1,611.5 C446.4,613.2 445.7,614.8 444.9,616.3 C444.1,617.8 443.2,619.3 442.3,620.7 C441.4,622.1 440.5,623.5 439.5,624.8 C438.5,626.1 437.4,627.3 436.3,628.5 C435.2,629.7 434.1,630.8 432.9,631.9 C431.7,632.9 430.5,633.9 429.2,634.8 C427.9,635.8 426.6,636.6 425.2,637.4 C423.9,638.2 422.5,639 421,639.6 C419.6,640.3 418.1,640.9 416.6,641.4 C415.1,641.9 412.8,642.5 412,642.8" fill="none" stroke="#000" stroke-width="1.8" />
<path d="M329.9,421.2 C330.9,421.3 333.7,421.3 335.6,421.5 C337.5,421.6 339.5,421.9 341.4,422.2 C343.4,422.6 345.4,423 347.4,423.5 C349.4,424 351.4,424.6 353.4,425.2 C355.4,425.9 357.5,426.6 359.5,427.5 C361.5,428.3 363.6,429.2 365.6,430.2 C367.6,431.2 369.7,432.3 371.7,433.4 C373.7,434.5 375.8,435.8 377.8,437.1 C379.8,438.3 381.8,439.7 383.8,441.1 C385.8,442.6 387.8,444.1 389.8,445.6 C391.7,447.2 393.7,448.9 395.6,450.6 C397.5,452.3 399.4,454 401.3,455.8 C403.1,457.7 405,459.5 406.8,461.5 C408.6,463.4 410.4,465.4 412.1,467.4 C413.9,469.5 415.6,471.5 417.3,473.7 C418.9,475.8 420.6,478 422.1,480.2 C423.7,482.4 425.3,484.7 426.8,487 C428.3,489.3 429.7,491.6 431.1,493.9 C432.5,496.3 433.9,498.7 435.2,501.1 C436.4,503.5 437.7,505.9 438.9,508.4 C440.1,510.8 441.2,513.3 442.3,515.8 C443.3,518.3 444.3,520.8 445.3,523.3 C446.2,525.8 447.1,528.3 448,530.8 C448.8,533.3 449.5,535.8 450.2,538.3 C450.9,540.8 451.6,543.3 452.1,545.8 C452.7,548.3 453.2,550.8 453.6,553.2 C454.1,555.7 454.4,558.1 454.7,560.6 C455,563 455.3,565.4 455.4,567.8 C455.6,570.2 455.7,572.5 455.7,574.8 C455.7,577.1 455.7,579.4 455.6,581.7 C455.4,583.9 455.3,586.1 455,588.3 C454.8,590.5 454.4,592.6 454,594.7 C453.7,596.7 453.2,598.8 452.7,600.8 C452.1,602.7 451.6,604.7 450.9,606.5 C450.2,608.4 449.5,610.2 448.7,611.9 C447.9,613.7 447.1,615.4 446.2,617 C445.3,618.6 444.3,620.2 443.3,621.7 C442.2,623.2 441.1,624.6 440,625.9 C438.8,627.3 437.6,628.6 436.4,629.8 C435.1,631 433.1,632.6 432.4,633.2" fill="none" stroke="#000" stroke-width="1.2" />
<path d="M308.2,426.4 C308.9,425.8 311.2,423.9 312.8,422.8 C314.5,421.7 316.1,420.6 317.9,419.7 C319.6,418.7 321.4,417.9 323.2,417.1 C325,416.4 326.9,415.7 328.8,415.1 C330.7,414.6 332.6,414.1 334.6,413.7 C336.6,413.4 338.6,413.1 340.7,412.9 C342.8,412.8 344.9,412.7 347,412.7 C349.1,412.7 351.2,412.8 353.4,413.1 C355.6,413.3 357.7,413.6 359.9,414 C362.1,414.4 364.4,414.9 366.6,415.6 C368.8,416.2 371,416.9 373.3,417.7 C375.5,418.5 377.7,419.4 380,420.3 C382.2,421.3 384.4,422.4 386.7,423.6 C388.9,424.7 391.1,426 393.3,427.3 C395.5,428.7 397.7,430.1 399.9,431.6 C402.1,433.1 404.2,434.7 406.3,436.4 C408.5,438.1 410.6,439.8 412.6,441.7 C414.7,443.5 416.7,445.4 418.7,447.3 C420.7,449.3 422.7,451.3 424.6,453.4 C426.6,455.5 428.4,457.7 430.3,459.9 C432.1,462.1 433.9,464.4 435.7,466.7 C437.4,469.1 439.1,471.5 440.7,473.9 C442.4,476.3 443.9,478.8 445.5,481.3 C447,483.8 448.5,486.3 449.9,488.9 C451.3,491.5 452.6,494.1 453.9,496.8 C455.1,499.4 456.3,502.1 457.5,504.8 C458.6,507.4 459.7,510.2 460.7,512.9 C461.7,515.6 462.6,518.3 463.4,521.1 C464.3,523.8 465.1,526.5 465.7,529.3 C466.4,532 467.1,534.7 467.6,537.5 C468.1,540.2 468.6,542.9 469,545.6 C469.4,548.3 469.7,551 469.9,553.6 C470.1,556.3 470.3,558.9 470.3,561.5 C470.4,564.1 470.4,566.7 470.3,569.3 C470.2,571.8 470,574.3 469.7,576.7 C469.5,579.2 469.1,581.6 468.7,584 C468.3,586.3 467.8,588.7 467.2,590.9 C466.6,593.2 466,595.4 465.2,597.5 C464.5,599.7 463.7,601.7 462.8,603.8 C461.9,605.8 461,607.7 460,609.6 C458.9,611.5 457.8,613.3 456.7,615 C455.5,616.7 454.3,618.4 453,619.9 C451.7,621.5 450.3,623 448.9,624.4 C447.4,625.8 445.9,627.1 444.4,628.4 C442.8,629.6 441.2,630.7 439.6,631.8 C437.9,632.8 436.2,633.8 434.4,634.7 C432.7,635.5 430.8,636.3 429,637 C427.1,637.6 425.2,638.2 423.3,638.7 C421.3,639.2 419.3,639.6 417.3,639.9 C415.3,640.2 412.2,640.3 411.2,640.4" fill="none" stroke="#000" stroke-width="1.6" />
<path d="M304.3,428.5 C303.1,430.8 298.9,437.4 297,442 C295.1,446.6 294.2,450.1 293.1,456.2 C292,462.3 290.3,470.5 290.3,478.6 C290.3,486.7 291.1,495.4 293.1,504.8 C295.1,514.2 299.2,526 302.4,534.8 C305.6,543.6 309.2,551.5 312.2,557.7 C315.2,563.9 318.9,569.6 320.3,572" fill="none" stroke="#000" stroke-width="1.7" />
<path d="M316.7,573 L427.7,628.8" fill="none" stroke="#000" stroke-width="1.7" />
<path d="M307,585.7 L411.5,641.6" fill="none" stroke="#000" stroke-width="2.5" />
<path d="M320.3,572 L307.4,580.2" fill="none" stroke="#000" stroke-width="1.3" />
<path d="M369,364.1 L375.4,362.3 L378.2,369.7 L371.8,371.5Z" fill="#fff" stroke="#000" stroke-width="2.7" stroke-linejoin="miter"/>
<path d="M372.5,369 L375.2,369.4 L375.4,365.8" fill="none" stroke="#000" stroke-width="1.9" />
<path d="M242.9,454.6 L249.6,452.7 L252.5,460.4 L245.8,462.3Z" fill="#fff" stroke="#000" stroke-width="2.7" stroke-linejoin="miter"/>
<path d="M246.5,459.7 L249.4,460.1 L249.6,456.3" fill="none" stroke="#000" stroke-width="1.9" />
<path d="M512.3,585.6 L518.7,583.8 L521.5,591.2 L515.1,593Z" fill="#fff" stroke="#000" stroke-width="2.7" stroke-linejoin="miter"/>
<path d="M515.8,590.5 L518.5,590.9 L518.7,587.2" fill="none" stroke="#000" stroke-width="1.9" />
<path d="M170.3,426.8 L213.6,447.5 L213.6,447.5 C215.4,448.8 220,449.4 224.5,455 C229,460.6 234.7,471.3 240.8,480.8 C246.9,490.3 254.9,502.4 261.3,512.2 C267.7,522 274.6,532.5 279,539.4 C283.4,546.3 284,547.6 287.7,553.6 C291.4,559.6 297.4,568.6 301.3,575.4 C305.2,582.2 307.4,586.8 310.8,594.5 C314.2,602.2 318.8,613.5 321.7,621.7 C324.6,629.9 326.6,636.3 328.5,643.5 C330.4,650.7 331.9,657.1 333.3,665 C334.7,672.9 336.6,682.4 336.6,691 C336.6,699.6 335.2,708.2 333.2,716.7 C331.2,725.2 328.1,734.6 324.7,742.3 C321.3,750 317.1,756.8 312.8,762.8 C308.5,768.8 303.6,773.8 299,778 C294.4,782.2 290.9,785.5 285.5,788.3 C280.1,791.1 272.7,793.7 266.7,795 C260.7,796.3 255.7,796.8 249.7,796 C243.7,795.2 237.9,792.7 230.5,790 C223.1,787.3 213.5,784.3 205,779.8 C196.5,775.3 187.9,769.3 179.4,762.8 C170.9,756.3 162.3,749.1 153.8,740.6 C145.3,732.1 135.9,721.3 128.2,711.6 C120.5,701.9 113.6,691.7 107.7,682.6 C101.8,673.5 97,664.1 93,657 C89,649.9 85.8,644.8 83.5,640 C81.2,635.2 80.8,633.1 79,628 C77.2,622.9 74.5,616.8 72.9,609.4 C71.3,602 70.2,592.3 69.5,583.8 C68.8,575.3 68.2,566.7 68.6,558.2 C69,549.7 70,541.1 72,532.6 C74,524.1 77.5,514 80.6,507 C83.7,500 85.7,496.3 90.5,490.5 C95.3,484.7 106.5,475.4 109.7,472.4 L134.3,450.6 L156.7,433 Q163,428 170.3,426.8Z" fill="#fff" stroke="#000" stroke-width="2.1" />
<path d="M156.7,433.5 L200,453.6 Q210,458.5 216.3,467.2 L216.3,467.2 C219.2,471.8 227.6,484.5 234,494.5 C240.4,504.5 249.9,519.5 254.5,527.1 C259.1,534.7 257.4,533.3 261.8,540 C266.2,546.7 275.4,558.1 280.8,567.2 C286.2,576.3 290.4,585.4 294.5,594.5 C298.6,603.6 302.2,613.1 305.4,621.7 C308.6,630.3 311.2,639 313.5,646.2 C315.8,653.4 317.4,657.5 319,665 C320.6,672.5 322.6,682.4 323,691 C323.4,699.6 322.4,708.7 321.3,716.7 C320.2,724.7 318.2,732 316.2,739 C314.2,746 312.5,751.9 309.4,759 C306.3,766.1 300.5,777 297.4,781.5 C294.3,786 292.1,785.2 291,786" fill="none" stroke="#000" stroke-width="1.7" />
<path d="M123.2,517.3 C120.4,519.3 111.3,524.7 106.2,529.2 C101.1,533.8 96.2,538.9 92.5,544.6 C88.8,550.3 86,556.8 84,563.3 C82,569.8 81.2,576.1 80.6,583.8 C80,591.5 79.9,601.4 80.6,609.4 C81.3,617.4 83.3,625.7 85,632 C86.7,638.3 88.6,642.2 91,647 C93.4,651.8 95,653.2 99.2,660.5 C103.4,667.8 110,681.6 116.3,691 C122.5,700.4 129,708.4 136.7,716.7 C144.4,725 153.8,733.8 162.3,740.6 C170.8,747.4 179.4,753.4 187.9,757.6 C196.4,761.8 206.4,764.3 213.5,766 C220.6,767.7 224.8,768.2 230.5,767.9 C236.2,767.6 241.8,766.9 247.6,764 C253.3,761.1 259.5,755.3 265,750.8 C270.5,746.3 276.1,742.7 280.4,737 C284.7,731.3 288.2,724.4 290.6,716.7 C293,709 294.6,699.5 294.9,691 C295.2,682.5 293.9,673.8 292.3,665.6 C290.7,657.4 287.7,650.4 285,642 C282.3,633.6 279.2,623.7 276,615 C272.8,606.3 269.5,597.8 266,590 C262.5,582.2 258.9,574.7 255,568 C251.1,561.3 248.9,556.5 242.6,549.7 C236.3,543 225.5,533.5 217,527.5 C208.5,521.5 200.2,517.1 191.4,513.9 C182.6,510.6 168.6,509 164,508" fill="none" stroke="#000" stroke-width="2" />
<path d="M255,758 C256.8,756.3 262,751.8 266,748 C270,744.2 275.3,740.3 279,735 C282.7,729.7 285.8,723.3 288,716 C290.2,708.7 292,699.3 292.3,691 C292.6,682.7 291.4,674 289.8,666 C288.2,658 285.3,651.3 282.6,643 C279.9,634.7 276.7,624.7 273.5,616 C270.3,607.3 267,598.8 263.5,591 C260,583.2 256.3,576 252.5,569.5 C248.7,563 246.7,558.6 240.5,552 C234.3,545.4 223.8,535.9 215.5,530 C207.2,524.1 198.8,519.7 190.5,516.5 C182.2,513.3 170.1,511.6 166,510.6" fill="none" stroke="#000" stroke-width="1.2" />
<path d="M130.2,520.5 C131.2,520.6 134.3,520.8 136.5,521 C138.6,521.3 140.7,521.6 142.8,522.1 C145,522.5 147.1,523 149.3,523.6 C151.4,524.1 153.6,524.8 155.8,525.5 C158,526.3 160.1,527.1 162.3,527.9 C164.5,528.8 166.7,529.8 168.9,530.8 C171,531.9 173.2,533 175.4,534.2 C177.5,535.3 179.7,536.6 181.8,537.9 C184,539.2 186.1,540.6 188.2,542.1 C190.3,543.5 192.5,545 194.5,546.6 C196.6,548.2 198.7,549.9 200.7,551.6 C202.8,553.3 204.8,555.1 206.8,556.9 C208.7,558.7 210.7,560.6 212.6,562.5 C214.6,564.5 216.5,566.5 218.3,568.5 C220.2,570.6 222,572.7 223.8,574.8 C225.6,576.9 227.4,579.1 229.1,581.4 C230.8,583.6 232.5,585.9 234.1,588.2 C235.7,590.5 237.3,592.8 238.8,595.2 C240.4,597.6 241.8,600 243.3,602.4 C244.7,604.9 246.1,607.3 247.4,609.8 C248.8,612.3 250.1,614.9 251.3,617.4 C252.5,619.9 253.7,622.5 254.8,625.1 C255.9,627.6 257,630.2 258,632.8 C259,635.4 259.9,638 260.8,640.6 C261.6,643.3 262.5,645.9 263.2,648.5 C264,651.1 264.7,653.7 265.3,656.3 C265.9,659 266.5,661.6 267,664.2 C267.5,666.8 267.9,669.4 268.3,671.9 C268.6,674.5 268.9,677.1 269.2,679.6 C269.4,682.1 269.6,684.7 269.7,687.2 C269.8,689.7 269.8,692.1 269.8,694.6 C269.7,697 269.6,699.4 269.5,701.8 C269.3,704.2 269.1,706.5 268.8,708.9 C268.5,711.2 268.1,713.4 267.7,715.7 C267.3,717.9 266.8,720.1 266.2,722.2 C265.7,724.4 265,726.5 264.3,728.5 C263.7,730.6 262.9,732.6 262.1,734.5 C261.3,736.5 260.4,738.4 259.5,740.2 C258.5,742 257.5,743.8 256.5,745.5 C255.4,747.2 253.7,749.6 253.2,750.5" fill="none" stroke="#000" stroke-width="1.7" />
<path d="M115.9,523.5 L129.5,515" fill="none" stroke="#000" stroke-width="2.7" />
<ellipse cx="183.3" cy="463.6" rx="3.2" ry="4.4" transform="rotate(-20 183.3 463.6)" fill="none" stroke="#000" stroke-width="1.7" />
<path d="M176.5,466 L181,463.8" fill="none" stroke="#000" stroke-width="1.5" />
<clipPath id="gclip"><ellipse cx="175" cy="645" rx="117" ry="71" transform="rotate(60.5 175 645)"/></clipPath>
<g clip-path="url(#gclip)">
<path d="M60,459.7 L300,598.9 L300,610.7 L60,471.5Z" fill="#000" stroke="none" stroke-width="0" />
<path d="M60,476.2 L300,615.4 L300,616.6 L60,477.4Z" fill="#000" stroke="none" stroke-width="0" />
<path d="M62,462.4 L67.7,465.7 L68.4,474.6 L62.7,471.3Z M71.2,467.7 L76.9,471 L77.6,479.9 L71.9,476.6Z M80.4,473 L86.1,476.3 L86.8,485.2 L81.1,481.9Z M89.6,478.4 L95.3,481.7 L96,490.6 L90.3,487.3Z M98.8,483.7 L104.5,487 L105.2,495.9 L99.5,492.6Z M108,489 L113.7,492.3 L114.4,501.3 L108.7,497.9Z M117.2,494.4 L122.9,497.7 L123.6,506.6 L117.9,503.3Z M126.4,499.7 L132.1,503 L132.8,511.9 L127.1,508.6Z M135.6,505 L141.3,508.4 L142,517.3 L136.3,514Z M144.8,510.4 L150.5,513.7 L151.2,522.6 L145.5,519.3Z M154,515.7 L159.7,519 L160.4,527.9 L154.7,524.6Z M163.2,521.1 L168.9,524.4 L169.6,533.3 L163.9,530Z M172.4,526.4 L178.1,529.7 L178.8,538.6 L173.1,535.3Z M181.6,531.7 L187.3,535 L188,543.9 L182.3,540.6Z M190.8,537.1 L196.5,540.4 L197.2,549.3 L191.5,546Z M200,542.4 L205.7,545.7 L206.4,554.6 L200.7,551.3Z M209.2,547.7 L214.9,551 L215.6,559.9 L209.9,556.6Z M218.4,553.1 L224.1,556.4 L224.8,565.3 L219.1,562Z M227.6,558.4 L233.3,561.7 L234,570.6 L228.3,567.3Z M236.8,563.7 L242.5,567 L243.2,576 L237.5,572.6Z M246,569.1 L251.7,572.4 L252.4,581.3 L246.7,578Z M255.2,574.4 L260.9,577.7 L261.6,586.6 L255.9,583.3Z M264.4,579.8 L270.1,583.1 L270.8,592 L265.1,588.7Z M273.6,585.1 L279.3,588.4 L280,597.3 L274.3,594Z M282.8,590.4 L288.5,593.7 L289.2,602.6 L283.5,599.3Z M292,595.8 L297.7,599.1 L298.4,608 L292.7,604.7Z" fill="#fff" stroke="none" stroke-width="0" />
<path d="M60,481.5 L300,616.4 L300,628.1 L60,493.3Z" fill="#000" stroke="none" stroke-width="0" />
<path d="M60,498 L300,632.9 L300,634 L60,499.2Z" fill="#000" stroke="none" stroke-width="0" />
<path d="M66.5,486.6 L72.2,489.8 L72.9,498.7 L67.2,495.5Z M75.7,491.8 L81.4,495 L82.1,503.9 L76.4,500.7Z M84.9,497 L90.6,500.2 L91.3,509.1 L85.6,505.9Z M94.1,502.1 L99.8,505.3 L100.5,514.2 L94.8,511Z M103.3,507.3 L109,510.5 L109.7,519.4 L104,516.2Z M112.5,512.5 L118.2,515.7 L118.9,524.6 L113.2,521.4Z M121.7,517.6 L127.4,520.8 L128.1,529.7 L122.4,526.5Z M130.9,522.8 L136.6,526 L137.3,534.9 L131.6,531.7Z M140.1,528 L145.8,531.2 L146.5,540.1 L140.8,536.9Z M149.3,533.2 L155,536.4 L155.7,545.3 L150,542Z M158.5,538.3 L164.2,541.5 L164.9,550.4 L159.2,547.2Z M167.7,543.5 L173.4,546.7 L174.1,555.6 L168.4,552.4Z M176.9,548.7 L182.6,551.9 L183.3,560.8 L177.6,557.6Z M186.1,553.8 L191.8,557 L192.5,565.9 L186.8,562.7Z M195.3,559 L201,562.2 L201.7,571.1 L196,567.9Z M204.5,564.2 L210.2,567.4 L210.9,576.3 L205.2,573.1Z M213.7,569.3 L219.4,572.6 L220.1,581.4 L214.4,578.2Z M222.9,574.5 L228.6,577.7 L229.3,586.6 L223.6,583.4Z M232.1,579.7 L237.8,582.9 L238.5,591.8 L232.8,588.6Z M241.3,584.9 L247,588.1 L247.7,597 L242,593.8Z M250.5,590 L256.2,593.2 L256.9,602.1 L251.2,598.9Z M259.7,595.2 L265.4,598.4 L266.1,607.3 L260.4,604.1Z M268.9,600.4 L274.6,603.6 L275.3,612.5 L269.6,609.3Z M278.1,605.5 L283.8,608.7 L284.5,617.6 L278.8,614.4Z M287.3,610.7 L293,613.9 L293.7,622.8 L288,619.6Z M296.5,615.9 L302.2,619.1 L302.9,628 L297.2,624.8Z" fill="#fff" stroke="none" stroke-width="0" />
<path d="M60,503.2 L300,633.8 L300,645.6 L60,515Z" fill="#000" stroke="none" stroke-width="0" />
<path d="M60,519.7 L300,650.3 L300,651.5 L60,520.9Z" fill="#000" stroke="none" stroke-width="0" />
<path d="M62,505.8 L67.7,508.9 L68.4,517.8 L62.7,514.7Z M71.2,510.8 L76.9,513.9 L77.6,522.8 L71.9,519.7Z M80.4,515.8 L86.1,518.9 L86.8,527.8 L81.1,524.7Z M89.6,520.8 L95.3,523.9 L96,532.8 L90.3,529.7Z M98.8,525.8 L104.5,528.9 L105.2,537.8 L99.5,534.7Z M108,530.9 L113.7,534 L114.4,542.8 L108.7,539.7Z M117.2,535.9 L122.9,539 L123.6,547.8 L117.9,544.7Z M126.4,540.9 L132.1,544 L132.8,552.8 L127.1,549.7Z M135.6,545.9 L141.3,549 L142,557.8 L136.3,554.7Z M144.8,550.9 L150.5,554 L151.2,562.9 L145.5,559.8Z M154,555.9 L159.7,559 L160.4,567.9 L154.7,564.8Z M163.2,560.9 L168.9,564 L169.6,572.9 L163.9,569.8Z M172.4,565.9 L178.1,569 L178.8,577.9 L173.1,574.8Z M181.6,570.9 L187.3,574 L188,582.9 L182.3,579.8Z M190.8,575.9 L196.5,579 L197.2,587.9 L191.5,584.8Z M200,580.9 L205.7,584 L206.4,592.9 L200.7,589.8Z M209.2,585.9 L214.9,589 L215.6,597.9 L209.9,594.8Z M218.4,590.9 L224.1,594 L224.8,602.9 L219.1,599.8Z M227.6,595.9 L233.3,599 L234,607.9 L228.3,604.8Z M236.8,600.9 L242.5,604 L243.2,612.9 L237.5,609.8Z M246,605.9 L251.7,609 L252.4,617.9 L246.7,614.8Z M255.2,610.9 L260.9,614 L261.6,622.9 L255.9,619.8Z M264.4,615.9 L270.1,619 L270.8,627.9 L265.1,624.8Z M273.6,620.9 L279.3,624 L280,632.9 L274.3,629.8Z M282.8,625.9 L288.5,629 L289.2,637.9 L283.5,634.8Z M292,630.9 L297.7,634 L298.4,642.9 L292.7,639.8Z" fill="#fff" stroke="none" stroke-width="0" />
<path d="M60,525 L300,651.2 L300,663 L60,536.8Z" fill="#000" stroke="none" stroke-width="0" />
<path d="M60,541.5 L300,667.8 L300,668.9 L60,542.7Z" fill="#000" stroke="none" stroke-width="0" />
<path d="M66.5,529.9 L72.2,532.9 L72.9,541.8 L67.2,538.8Z M75.7,534.8 L81.4,537.8 L82.1,546.6 L76.4,543.6Z M84.9,539.6 L90.6,542.6 L91.3,551.5 L85.6,548.5Z M94.1,544.4 L99.8,547.4 L100.5,556.3 L94.8,553.3Z M103.3,549.3 L109,552.3 L109.7,561.2 L104,558.2Z M112.5,554.1 L118.2,557.1 L118.9,566 L113.2,563Z M121.7,559 L127.4,562 L128.1,570.8 L122.4,567.8Z M130.9,563.8 L136.6,566.8 L137.3,575.7 L131.6,572.7Z M140.1,568.6 L145.8,571.6 L146.5,580.5 L140.8,577.5Z M149.3,573.5 L155,576.5 L155.7,585.3 L150,582.4Z M158.5,578.3 L164.2,581.3 L164.9,590.2 L159.2,587.2Z M167.7,583.2 L173.4,586.2 L174.1,595 L168.4,592Z M176.9,588 L182.6,591 L183.3,599.9 L177.6,596.9Z M186.1,592.8 L191.8,595.8 L192.5,604.7 L186.8,601.7Z M195.3,597.7 L201,600.7 L201.7,609.5 L196,606.5Z M204.5,602.5 L210.2,605.5 L210.9,614.4 L205.2,611.4Z M213.7,607.4 L219.4,610.4 L220.1,619.2 L214.4,616.2Z M222.9,612.2 L228.6,615.2 L229.3,624.1 L223.6,621.1Z M232.1,617 L237.8,620 L238.5,628.9 L232.8,625.9Z M241.3,621.9 L247,624.9 L247.7,633.7 L242,630.7Z M250.5,626.7 L256.2,629.7 L256.9,638.6 L251.2,635.6Z M259.7,631.6 L265.4,634.6 L266.1,643.4 L260.4,640.4Z M268.9,636.4 L274.6,639.4 L275.3,648.3 L269.6,645.3Z M278.1,641.2 L283.8,644.2 L284.5,653.1 L278.8,650.1Z M287.3,646.1 L293,649.1 L293.7,657.9 L288,654.9Z M296.5,650.9 L302.2,653.9 L302.9,662.8 L297.2,659.8Z" fill="#fff" stroke="none" stroke-width="0" />
<path d="M60,546.8 L300,668.7 L300,680.5 L60,558.6Z" fill="#000" stroke="none" stroke-width="0" />
<path d="M60,563.3 L300,685.2 L300,686.4 L60,564.5Z" fill="#000" stroke="none" stroke-width="0" />
<path d="M62,549.3 L67.7,552.2 L68.4,561 L62.7,558.2Z M71.2,554 L76.9,556.9 L77.6,565.7 L71.9,562.8Z M80.4,558.6 L86.1,561.5 L86.8,570.4 L81.1,567.5Z M89.6,563.3 L95.3,566.2 L96,575.1 L90.3,572.2Z M98.8,568 L104.5,570.9 L105.2,579.7 L99.5,576.8Z M108,572.7 L113.7,575.6 L114.4,584.4 L108.7,581.5Z M117.2,577.3 L122.9,580.2 L123.6,589.1 L117.9,586.2Z M126.4,582 L132.1,584.9 L132.8,593.8 L127.1,590.9Z M135.6,586.7 L141.3,589.6 L142,598.4 L136.3,595.5Z M144.8,591.4 L150.5,594.3 L151.2,603.1 L145.5,600.2Z M154,596 L159.7,598.9 L160.4,607.8 L154.7,604.9Z M163.2,600.7 L168.9,603.6 L169.6,612.5 L163.9,609.6Z M172.4,605.4 L178.1,608.3 L178.8,617.1 L173.1,614.2Z M181.6,610.1 L187.3,612.9 L188,621.8 L182.3,618.9Z M190.8,614.7 L196.5,617.6 L197.2,626.5 L191.5,623.6Z M200,619.4 L205.7,622.3 L206.4,631.2 L200.7,628.3Z M209.2,624.1 L214.9,627 L215.6,635.8 L209.9,632.9Z M218.4,628.7 L224.1,631.6 L224.8,640.5 L219.1,637.6Z M227.6,633.4 L233.3,636.3 L234,645.2 L228.3,642.3Z M236.8,638.1 L242.5,641 L243.2,649.8 L237.5,646.9Z M246,642.8 L251.7,645.7 L252.4,654.5 L246.7,651.6Z M255.2,647.4 L260.9,650.3 L261.6,659.2 L255.9,656.3Z M264.4,652.1 L270.1,655 L270.8,663.9 L265.1,661Z M273.6,656.8 L279.3,659.7 L280,668.5 L274.3,665.6Z M282.8,661.5 L288.5,664.4 L289.2,673.2 L283.5,670.3Z M292,666.1 L297.7,669 L298.4,677.9 L292.7,675Z" fill="#fff" stroke="none" stroke-width="0" />
<path d="M60,568.5 L300,686.1 L300,697.9 L60,580.3Z" fill="#000" stroke="none" stroke-width="0" />
<path d="M60,585 L300,702.6 L300,703.8 L60,586.2Z" fill="#000" stroke="none" stroke-width="0" />
<path d="M66.5,573.2 L72.2,576 L72.9,584.9 L67.2,582.1Z M75.7,577.7 L81.4,580.5 L82.1,589.4 L76.4,586.6Z M84.9,582.3 L90.6,585 L91.3,593.9 L85.6,591.1Z M94.1,586.8 L99.8,589.6 L100.5,598.4 L94.8,595.6Z M103.3,591.3 L109,594.1 L109.7,602.9 L104,600.1Z M112.5,595.8 L118.2,598.6 L118.9,607.4 L113.2,604.6Z M121.7,600.3 L127.4,603.1 L128.1,611.9 L122.4,609.1Z M130.9,604.8 L136.6,607.6 L137.3,616.4 L131.6,613.6Z M140.1,609.3 L145.8,612.1 L146.5,620.9 L140.8,618.1Z M149.3,613.8 L155,616.6 L155.7,625.4 L150,622.6Z M158.5,618.3 L164.2,621.1 L164.9,630 L159.2,627.2Z M167.7,622.8 L173.4,625.6 L174.1,634.5 L168.4,631.7Z M176.9,627.3 L182.6,630.1 L183.3,639 L177.6,636.2Z M186.1,631.8 L191.8,634.6 L192.5,643.5 L186.8,640.7Z M195.3,636.3 L201,639.1 L201.7,648 L196,645.2Z M204.5,640.9 L210.2,643.6 L210.9,652.5 L205.2,649.7Z M213.7,645.4 L219.4,648.2 L220.1,657 L214.4,654.2Z M222.9,649.9 L228.6,652.7 L229.3,661.5 L223.6,658.7Z M232.1,654.4 L237.8,657.2 L238.5,666 L232.8,663.2Z M241.3,658.9 L247,661.7 L247.7,670.5 L242,667.7Z M250.5,663.4 L256.2,666.2 L256.9,675 L251.2,672.2Z M259.7,667.9 L265.4,670.7 L266.1,679.5 L260.4,676.7Z M268.9,672.4 L274.6,675.2 L275.3,684 L269.6,681.3Z M278.1,676.9 L283.8,679.7 L284.5,688.6 L278.8,685.8Z M287.3,681.4 L293,684.2 L293.7,693.1 L288,690.3Z M296.5,685.9 L302.2,688.7 L302.9,697.6 L297.2,694.8Z" fill="#fff" stroke="none" stroke-width="0" />
<path d="M60,590.3 L300,703.6 L300,715.4 L60,602.1Z" fill="#000" stroke="none" stroke-width="0" />
<path d="M60,606.8 L300,720.1 L300,721.3 L60,608Z" fill="#000" stroke="none" stroke-width="0" />
<path d="M62,592.8 L67.7,595.5 L68.4,604.3 L62.7,601.6Z M71.2,597.1 L76.9,599.8 L77.6,608.6 L71.9,605.9Z M80.4,601.4 L86.1,604.1 L86.8,613 L81.1,610.3Z M89.6,605.8 L95.3,608.5 L96,617.3 L90.3,614.6Z M98.8,610.1 L104.5,612.8 L105.2,621.7 L99.5,619Z M108,614.5 L113.7,617.2 L114.4,626 L108.7,623.3Z M117.2,618.8 L122.9,621.5 L123.6,630.3 L117.9,627.6Z M126.4,623.2 L132.1,625.9 L132.8,634.7 L127.1,632Z M135.6,627.5 L141.3,630.2 L142,639 L136.3,636.3Z M144.8,631.8 L150.5,634.5 L151.2,643.4 L145.5,640.7Z M154,636.2 L159.7,638.9 L160.4,647.7 L154.7,645Z M163.2,640.5 L168.9,643.2 L169.6,652.1 L163.9,649.4Z M172.4,644.9 L178.1,647.6 L178.8,656.4 L173.1,653.7Z M181.6,649.2 L187.3,651.9 L188,660.7 L182.3,658Z M190.8,653.6 L196.5,656.2 L197.2,665.1 L191.5,662.4Z M200,657.9 L205.7,660.6 L206.4,669.4 L200.7,666.7Z M209.2,662.2 L214.9,664.9 L215.6,673.8 L209.9,671.1Z M218.4,666.6 L224.1,669.3 L224.8,678.1 L219.1,675.4Z M227.6,670.9 L233.3,673.6 L234,682.4 L228.3,679.8Z M236.8,675.3 L242.5,678 L243.2,686.8 L237.5,684.1Z M246,679.6 L251.7,682.3 L252.4,691.1 L246.7,688.4Z M255.2,684 L260.9,686.6 L261.6,695.5 L255.9,692.8Z M264.4,688.3 L270.1,691 L270.8,699.8 L265.1,697.1Z M273.6,692.6 L279.3,695.3 L280,704.2 L274.3,701.5Z M282.8,697 L288.5,699.7 L289.2,708.5 L283.5,705.8Z M292,701.3 L297.7,704 L298.4,712.8 L292.7,710.2Z" fill="#fff" stroke="none" stroke-width="0" />
<path d="M60,612.1 L300,721 L300,732.8 L60,623.9Z" fill="#000" stroke="none" stroke-width="0" />
<path d="M60,628.6 L300,737.5 L300,738.7 L60,629.8Z" fill="#000" stroke="none" stroke-width="0" />
<path d="M66.5,616.5 L72.2,619.1 L72.9,627.9 L67.2,625.4Z M75.7,620.7 L81.4,623.3 L82.1,632.1 L76.4,629.5Z M84.9,624.9 L90.6,627.5 L91.3,636.3 L85.6,633.7Z M94.1,629.1 L99.8,631.7 L100.5,640.5 L94.8,637.9Z M103.3,633.2 L109,635.8 L109.7,644.7 L104,642.1Z M112.5,637.4 L118.2,640 L118.9,648.8 L113.2,646.2Z M121.7,641.6 L127.4,644.2 L128.1,653 L122.4,650.4Z M130.9,645.8 L136.6,648.4 L137.3,657.2 L131.6,654.6Z M140.1,650 L145.8,652.5 L146.5,661.4 L140.8,658.8Z M149.3,654.1 L155,656.7 L155.7,665.5 L150,662.9Z M158.5,658.3 L164.2,660.9 L164.9,669.7 L159.2,667.1Z M167.7,662.5 L173.4,665.1 L174.1,673.9 L168.4,671.3Z M176.9,666.7 L182.6,669.3 L183.3,678.1 L177.6,675.5Z M186.1,670.8 L191.8,673.4 L192.5,682.2 L186.8,679.7Z M195.3,675 L201,677.6 L201.7,686.4 L196,683.8Z M204.5,679.2 L210.2,681.8 L210.9,690.6 L205.2,688Z M213.7,683.4 L219.4,686 L220.1,694.8 L214.4,692.2Z M222.9,687.5 L228.6,690.1 L229.3,699 L223.6,696.4Z M232.1,691.7 L237.8,694.3 L238.5,703.1 L232.8,700.5Z M241.3,695.9 L247,698.5 L247.7,707.3 L242,704.7Z M250.5,700.1 L256.2,702.7 L256.9,711.5 L251.2,708.9Z M259.7,704.3 L265.4,706.8 L266.1,715.7 L260.4,713.1Z M268.9,708.4 L274.6,711 L275.3,719.8 L269.6,717.2Z M278.1,712.6 L283.8,715.2 L284.5,724 L278.8,721.4Z M287.3,716.8 L293,719.4 L293.7,728.2 L288,725.6Z M296.5,721 L302.2,723.5 L302.9,732.4 L297.2,729.8Z" fill="#fff" stroke="none" stroke-width="0" />
<path d="M60,633.9 L300,738.5 L300,750.3 L60,645.7Z" fill="#000" stroke="none" stroke-width="0" />
<path d="M60,650.4 L300,755 L300,756.2 L60,651.6Z" fill="#000" stroke="none" stroke-width="0" />
<path d="M62,636.2 L67.7,638.7 L68.4,647.5 L62.7,645Z M71.2,640.2 L76.9,642.7 L77.6,651.5 L71.9,649Z M80.4,644.3 L86.1,646.7 L86.8,655.5 L81.1,653.1Z M89.6,648.3 L95.3,650.8 L96,659.6 L90.3,657.1Z M98.8,652.3 L104.5,654.8 L105.2,663.6 L99.5,661.1Z M108,656.3 L113.7,658.8 L114.4,667.6 L108.7,665.1Z M117.2,660.3 L122.9,662.8 L123.6,671.6 L117.9,669.1Z M126.4,664.3 L132.1,666.8 L132.8,675.6 L127.1,673.1Z M135.6,668.3 L141.3,670.8 L142,679.6 L136.3,677.1Z M144.8,672.3 L150.5,674.8 L151.2,683.6 L145.5,681.1Z M154,676.3 L159.7,678.8 L160.4,687.6 L154.7,685.1Z M163.2,680.4 L168.9,682.8 L169.6,691.6 L163.9,689.2Z M172.4,684.4 L178.1,686.9 L178.8,695.7 L173.1,693.2Z M181.6,688.4 L187.3,690.9 L188,699.7 L182.3,697.2Z M190.8,692.4 L196.5,694.9 L197.2,703.7 L191.5,701.2Z M200,696.4 L205.7,698.9 L206.4,707.7 L200.7,705.2Z M209.2,700.4 L214.9,702.9 L215.6,711.7 L209.9,709.2Z M218.4,704.4 L224.1,706.9 L224.8,715.7 L219.1,713.2Z M227.6,708.4 L233.3,710.9 L234,719.7 L228.3,717.2Z M236.8,712.4 L242.5,714.9 L243.2,723.7 L237.5,721.2Z M246,716.5 L251.7,718.9 L252.4,727.7 L246.7,725.3Z M255.2,720.5 L260.9,723 L261.6,731.8 L255.9,729.3Z M264.4,724.5 L270.1,727 L270.8,735.8 L265.1,733.3Z M273.6,728.5 L279.3,731 L280,739.8 L274.3,737.3Z M282.8,732.5 L288.5,735 L289.2,743.8 L283.5,741.3Z M292,736.5 L297.7,739 L298.4,747.8 L292.7,745.3Z" fill="#fff" stroke="none" stroke-width="0" />
<path d="M60,655.6 L300,755.9 L300,767.7 L60,667.4Z" fill="#000" stroke="none" stroke-width="0" />
<path d="M60,672.1 L300,772.4 L300,773.6 L60,673.3Z" fill="#000" stroke="none" stroke-width="0" />
<path d="M66.5,659.8 L72.2,662.2 L72.9,671 L67.2,668.6Z M75.7,663.7 L81.4,666.1 L82.1,674.9 L76.4,672.5Z M84.9,667.5 L90.6,669.9 L91.3,678.7 L85.6,676.3Z M94.1,671.4 L99.8,673.8 L100.5,682.6 L94.8,680.2Z M103.3,675.2 L109,677.6 L109.7,686.4 L104,684Z M112.5,679.1 L118.2,681.5 L118.9,690.3 L113.2,687.9Z M121.7,682.9 L127.4,685.3 L128.1,694.1 L122.4,691.7Z M130.9,686.8 L136.6,689.1 L137.3,697.9 L131.6,695.6Z M140.1,690.6 L145.8,693 L146.5,701.8 L140.8,699.4Z M149.3,694.5 L155,696.8 L155.7,705.6 L150,703.2Z M158.5,698.3 L164.2,700.7 L164.9,709.5 L159.2,707.1Z M167.7,702.1 L173.4,704.5 L174.1,713.3 L168.4,710.9Z M176.9,706 L182.6,708.4 L183.3,717.2 L177.6,714.8Z M186.1,709.8 L191.8,712.2 L192.5,721 L186.8,718.6Z M195.3,713.7 L201,716.1 L201.7,724.9 L196,722.5Z M204.5,717.5 L210.2,719.9 L210.9,728.7 L205.2,726.3Z M213.7,721.4 L219.4,723.8 L220.1,732.6 L214.4,730.2Z M222.9,725.2 L228.6,727.6 L229.3,736.4 L223.6,734Z M232.1,729.1 L237.8,731.5 L238.5,740.2 L232.8,737.9Z M241.3,732.9 L247,735.3 L247.7,744.1 L242,741.7Z M250.5,736.8 L256.2,739.1 L256.9,747.9 L251.2,745.6Z M259.7,740.6 L265.4,743 L266.1,751.8 L260.4,749.4Z M268.9,744.5 L274.6,746.8 L275.3,755.6 L269.6,753.2Z M278.1,748.3 L283.8,750.7 L284.5,759.5 L278.8,757.1Z M287.3,752.1 L293,754.5 L293.7,763.3 L288,760.9Z M296.5,756 L302.2,758.4 L302.9,767.2 L297.2,764.8Z" fill="#fff" stroke="none" stroke-width="0" />
<path d="M60,677.4 L300,773.4 L300,785.2 L60,689.2Z" fill="#000" stroke="none" stroke-width="0" />
<path d="M60,693.9 L300,789.9 L300,791.1 L60,695.1Z" fill="#000" stroke="none" stroke-width="0" />
<path d="M62,679.7 L67.7,682 L68.4,690.8 L62.7,688.5Z M71.2,683.4 L76.9,685.7 L77.6,694.4 L71.9,692.2Z M80.4,687.1 L86.1,689.3 L86.8,698.1 L81.1,695.8Z M89.6,690.7 L95.3,693 L96,701.8 L90.3,699.5Z M98.8,694.4 L104.5,696.7 L105.2,705.5 L99.5,703.2Z M108,698.1 L113.7,700.4 L114.4,709.2 L108.7,706.9Z M117.2,701.8 L122.9,704.1 L123.6,712.8 L117.9,710.6Z M126.4,705.5 L132.1,707.7 L132.8,716.5 L127.1,714.2Z M135.6,709.1 L141.3,711.4 L142,720.2 L136.3,717.9Z M144.8,712.8 L150.5,715.1 L151.2,723.9 L145.5,721.6Z M154,716.5 L159.7,718.8 L160.4,727.6 L154.7,725.3Z M163.2,720.2 L168.9,722.5 L169.6,731.2 L163.9,729Z M172.4,723.9 L178.1,726.1 L178.8,734.9 L173.1,732.6Z M181.6,727.5 L187.3,729.8 L188,738.6 L182.3,736.3Z M190.8,731.2 L196.5,733.5 L197.2,742.3 L191.5,740Z M200,734.9 L205.7,737.2 L206.4,746 L200.7,743.7Z M209.2,738.6 L214.9,740.9 L215.6,749.6 L209.9,747.4Z M218.4,742.3 L224.1,744.5 L224.8,753.3 L219.1,751Z M227.6,745.9 L233.3,748.2 L234,757 L228.3,754.7Z M236.8,749.6 L242.5,751.9 L243.2,760.7 L237.5,758.4Z M246,753.3 L251.7,755.6 L252.4,764.4 L246.7,762.1Z M255.2,757 L260.9,759.3 L261.6,768 L255.9,765.8Z M264.4,760.7 L270.1,762.9 L270.8,771.7 L265.1,769.4Z M273.6,764.3 L279.3,766.6 L280,775.4 L274.3,773.1Z M282.8,768 L288.5,770.3 L289.2,779.1 L283.5,776.8Z M292,771.7 L297.7,774 L298.4,782.8 L292.7,780.5Z" fill="#fff" stroke="none" stroke-width="0" />
<path d="M60,699.2 L300,790.9 L300,802.6 L60,711Z" fill="#000" stroke="none" stroke-width="0" />
<path d="M60,715.7 L300,807.4 L300,808.5 L60,716.9Z" fill="#000" stroke="none" stroke-width="0" />
<path d="M66.5,703.2 L72.2,705.3 L72.9,714.1 L67.2,711.9Z M75.7,706.7 L81.4,708.8 L82.1,717.6 L76.4,715.4Z M84.9,710.2 L90.6,712.4 L91.3,721.1 L85.6,718.9Z M94.1,713.7 L99.8,715.9 L100.5,724.6 L94.8,722.5Z M103.3,717.2 L109,719.4 L109.7,728.2 L104,726Z M112.5,720.7 L118.2,722.9 L118.9,731.7 L113.2,729.5Z M121.7,724.2 L127.4,726.4 L128.1,735.2 L122.4,733Z M130.9,727.8 L136.6,729.9 L137.3,738.7 L131.6,736.5Z M140.1,731.3 L145.8,733.4 L146.5,742.2 L140.8,740Z M149.3,734.8 L155,737 L155.7,745.7 L150,743.6Z M158.5,738.3 L164.2,740.5 L164.9,749.2 L159.2,747.1Z M167.7,741.8 L173.4,744 L174.1,752.8 L168.4,750.6Z M176.9,745.3 L182.6,747.5 L183.3,756.3 L177.6,754.1Z M186.1,748.8 L191.8,751 L192.5,759.8 L186.8,757.6Z M195.3,752.4 L201,754.5 L201.7,763.3 L196,761.1Z M204.5,755.9 L210.2,758 L210.9,766.8 L205.2,764.6Z M213.7,759.4 L219.4,761.6 L220.1,770.3 L214.4,768.2Z M222.9,762.9 L228.6,765.1 L229.3,773.8 L223.6,771.7Z M232.1,766.4 L237.8,768.6 L238.5,777.4 L232.8,775.2Z M241.3,769.9 L247,772.1 L247.7,780.9 L242,778.7Z M250.5,773.4 L256.2,775.6 L256.9,784.4 L251.2,782.2Z M259.7,777 L265.4,779.1 L266.1,787.9 L260.4,785.7Z M268.9,780.5 L274.6,782.6 L275.3,791.4 L269.6,789.2Z M278.1,784 L283.8,786.2 L284.5,794.9 L278.8,792.8Z M287.3,787.5 L293,789.7 L293.7,798.4 L288,796.3Z M296.5,791 L302.2,793.2 L302.9,802 L297.2,799.8Z" fill="#fff" stroke="none" stroke-width="0" />
</g>
<path d="M150,463.6 L166.3,458.8 L171.7,486.7 L158,486Z" fill="#fff" stroke="none" stroke-width="0" />
<ellipse cx="169.7" cy="473.1" rx="6.8" ry="14.3" transform="rotate(-12 169.7 473.1)" fill="#fff" stroke="#000" stroke-width="2" />
<path d="M149,464.2 L167.2,459.2" fill="none" stroke="#000" stroke-width="2" />
<path d="M160,485.5 L171.5,487" fill="none" stroke="#000" stroke-width="2" />
<path d="M155.9,525.3 L155.1,525.2 L154.2,524.8 L153.3,524.2 L152.5,523.5 L151.6,522.8 L150.8,522.2 L150,521.6 L149.3,521.2 L148.6,520.9 L147.9,520.9 L147.2,520.9 L146.6,521.1 L145.9,521.4 L145.1,521.6 L144.4,521.7 L143.6,521.7 L142.8,521.5 L141.9,521.1 L141.1,520.4 L140.3,519.5 L139.6,518.4 L138.9,517.1 L138.2,515.7 L137.6,514.3 L137.1,512.9 L136.5,511.6 L136,510.4 L135.4,509.3 L134.8,508.3 L134.2,507.4 L133.4,506.6 L132.7,505.7 L131.8,504.9 L131,504.1 L130.1,503.1 L129.3,502.1 L128.6,500.9 L127.9,499.7 L127.4,498.4 L127,497 L126.7,495.6 L126.6,494.2 L126.6,492.8 L126.6,491.5 L126.7,490.3 L126.7,489.1 L126.7,487.9 L126.7,486.7 L126.5,485.6 L126.2,484.4 L125.9,483.1 L125.5,481.8 L125,480.4 L124.5,478.9 L124.1,477.5 L123.7,476 L123.5,474.6 L123.4,473.3 L123.4,472.1 L123.7,471.1 L124.1,470.2 L124.6,469.5 L125.2,468.9 L125.8,468.5 L126.5,468.1 L127.1,467.7 L127.6,467.3 L128.1,466.8 L128.5,466.1 L128.8,465.3 L129,464.3 L129.2,463.3 L129.3,462.1 L129.5,461 L129.7,459.8 L130,458.8 L130.4,458 L131,457.3 L131.6,457 L132.3,456.9 L133.1,457 L134,457.4 L134.9,458 L135.7,458.7 L136.6,459.4 L137.4,460 L138.2,460.6 L138.9,461 L139.6,461.3 L140.3,461.3 L141,461.3 L141.6,461.1 L142.3,460.8 L143.1,460.6 L143.8,460.5 L144.6,460.5 L145.4,460.7 L146.3,461.1 L147.1,461.8 L147.9,462.7 L148.6,463.8 L149.3,465.1 L150,466.5 L150.6,467.9 L151.1,469.3 L151.7,470.6 L152.2,471.8 L152.8,472.9 L153.4,473.9 L154,474.8 L154.8,475.6 L155.5,476.5 L156.4,477.3 L157.2,478.1 L158.1,479.1 L158.9,480.1 L159.6,481.3 L160.3,482.5 L160.8,483.8 L161.2,485.2 L161.5,486.6 L161.6,488 L161.6,489.4 L161.6,490.7 L161.5,491.9 L161.5,493.1 L161.5,494.3 L161.5,495.5 L161.7,496.6 L162,497.8 L162.3,499.1 L162.7,500.4 L163.2,501.8 L163.7,503.3 L164.1,504.7 L164.5,506.2 L164.7,507.6 L164.8,508.9 L164.8,510.1 L164.5,511.1 L164.1,512 L163.6,512.7 L163,513.3 L162.4,513.7 L161.7,514.1 L161.1,514.5 L160.6,514.9 L160.1,515.4 L159.7,516.1 L159.4,516.9 L159.2,517.9 L159,518.9 L158.9,520.1 L158.7,521.2 L158.5,522.4 L158.2,523.4 L157.8,524.2 L157.2,524.9 L156.6,525.2Z" fill="#fff" stroke="#000" stroke-width="2.1" />
<path d="M142.7,521.6 L141.8,521.4 L140.9,520.9 L139.9,520.3 L139,519.5 L138.1,518.7 L137.2,518 L136.4,517.3 L135.6,516.9 L134.9,516.6 L134.2,516.6 L133.5,516.7 L132.8,517 L132.1,517.4 L131.3,517.7 L130.5,517.9 L129.6,518 L128.8,517.8 L127.9,517.4 L127,516.8 L126.2,515.8 L125.4,514.6 L124.7,513.3 L124.1,511.8 L123.5,510.4 L122.9,508.9 L122.4,507.5 L121.9,506.2 L121.3,505.1 L120.7,504.1 L120,503.2 L119.3,502.4 L118.4,501.6 L117.5,500.8 L116.6,500 L115.6,499.1 L114.8,498.1 L114,496.9 L113.3,495.7 L112.7,494.3 L112.3,492.9 L112.1,491.5 L112,490 L112,488.6 L112.2,487.3 L112.3,486 L112.4,484.8 L112.5,483.6 L112.5,482.4 L112.3,481.3 L112.1,480.1 L111.7,478.8 L111.2,477.4 L110.6,476 L110.1,474.5 L109.6,472.9 L109.2,471.4 L108.9,469.9 L108.8,468.6 L108.9,467.3 L109.2,466.3 L109.6,465.4 L110.2,464.7 L110.9,464.2 L111.6,463.8 L112.4,463.5 L113.1,463.1 L113.7,462.8 L114.2,462.3 L114.7,461.6 L115,460.8 L115.2,459.8 L115.3,458.6 L115.4,457.3 L115.6,456 L115.8,454.8 L116.1,453.7 L116.5,452.7 L117.1,452 L117.8,451.7 L118.5,451.6 L119.4,451.8 L120.3,452.3 L121.3,452.9 L122.2,453.7 L123.1,454.5 L124,455.2 L124.8,455.9 L125.6,456.3 L126.3,456.6 L127,456.6 L127.7,456.5 L128.4,456.2 L129.1,455.8 L129.9,455.5 L130.7,455.3 L131.6,455.2 L132.4,455.4 L133.3,455.8 L134.2,456.4 L135,457.4 L135.8,458.6 L136.5,459.9 L137.1,461.4 L137.7,462.8 L138.3,464.3 L138.8,465.7 L139.3,467 L139.9,468.1 L140.5,469.1 L141.2,470 L141.9,470.8 L142.8,471.6 L143.7,472.4 L144.6,473.2 L145.6,474.1 L146.4,475.1 L147.2,476.3 L147.9,477.5 L148.5,478.9 L148.9,480.3 L149.1,481.7 L149.2,483.2 L149.2,484.6 L149,485.9 L148.9,487.2 L148.8,488.4 L148.7,489.6 L148.7,490.8 L148.9,491.9 L149.1,493.1 L149.5,494.4 L150,495.8 L150.6,497.2 L151.1,498.7 L151.6,500.3 L152,501.8 L152.3,503.3 L152.4,504.6 L152.3,505.9 L152,506.9 L151.6,507.8 L151,508.5 L150.3,509 L149.6,509.4 L148.8,509.7 L148.1,510.1 L147.5,510.4 L147,510.9 L146.5,511.6 L146.2,512.4 L146,513.4 L145.9,514.6 L145.8,515.9 L145.6,517.2 L145.4,518.4 L145.1,519.5 L144.7,520.5 L144.1,521.2 L143.4,521.5Z" fill="#fff" stroke="#000" stroke-width="2.1" />
<ellipse cx="131.2" cy="489.2" rx="22.8" ry="12.4" transform="rotate(57 131.2 489.2)" fill="none" stroke="#000" stroke-width="1.8" />
<path d="M129.1,455.8 L142.3,460.8" fill="none" stroke="#000" stroke-width="1.5" />
<path d="M137.1,461.4 L150,466.5" fill="none" stroke="#000" stroke-width="1.5" />
<path d="M143.7,472.4 L156.4,477.3" fill="none" stroke="#000" stroke-width="1.5" />
<path d="M149.2,484.6 L161.6,489.4" fill="none" stroke="#000" stroke-width="1.5" />
<path d="M150.6,497.2 L163.2,501.8" fill="none" stroke="#000" stroke-width="1.5" />
<path d="M150.3,509 L163,513.3" fill="none" stroke="#000" stroke-width="1.5" />
<path d="M145.8,515.9 L158.9,520.1" fill="none" stroke="#000" stroke-width="1.5" />
<path d="M961.8,496.2 L1078.6,606.2 L1070.6,651.3 L1011.4,719.7 L1009.3,720.7 L890.9,666.6 L875.5,657.4 L861.2,645.1 L879.5,627 L895.3,553.3Z" fill="#fff" stroke="none" stroke-width="0" />
<path d="M1021.6,668.6 L1077.7,607.4" fill="none" stroke="#000" stroke-width="2.5" />
<path d="M1078.6,606.2 L1070.6,651.3" fill="none" stroke="#000" stroke-width="2" />
<path d="M1070.6,651.3 L1011.4,719.7" fill="none" stroke="#000" stroke-width="2.5" />
<path d="M1074.7,610.4 L1066.5,651.3 L1048.1,642.1" fill="none" stroke="#000" stroke-width="1.6" />
<path d="M1066.5,651.3 L1070.6,651.3" fill="none" stroke="#000" stroke-width="1.6" />
<path d="M895.3,553.3 L961.8,496.2 L975.5,507.3 L1078.6,606.2" fill="none" stroke="#000" stroke-width="2.4" />
<path d="M911.5,565.3 L975.5,507.3" fill="none" stroke="#000" stroke-width="1.5" />
<path d="M895.3,553.3 L911.5,565.3 L1021.6,668.6" fill="none" stroke="#000" stroke-width="2.5" />
<path d="M1021.6,668.6 L1009.3,720.7" fill="none" stroke="#000" stroke-width="2.7" />
<path d="M895.3,553.3 L875.5,657.4 Q880,662 890.9,666.6 L1009.3,720.7" fill="none" stroke="#000" stroke-width="2.1" />
<path d="M879.3,627.5 L861.2,645.1 L875.5,657.4" fill="none" stroke="#000" stroke-width="2.4" />
<path d="M911.5,565.3 L891.9,669.7" fill="none" stroke="#000" stroke-width="1.3" />
<path d="M919.5,586 L1008.3,667.6 L1000.1,706.4 L907.2,663.5 Q903.5,661 904.1,657.4 Z" fill="none" stroke="#000" stroke-width="2.9" />
<path d="M934.8,601.2 L911.3,622.7" fill="none" stroke="#000" stroke-width="1.6" />
<path d="M946,614.5 L908.2,649.2" fill="none" stroke="#000" stroke-width="1.3" />
<path d="M984.8,649.2 C985.8,651.5 989.3,657.5 991,663 C992.7,668.5 994,675.2 995,682 C996,688.8 996.7,700.3 997,704" fill="none" stroke="#000" stroke-width="1.3" />
<path d="M1003.5,672 L1000,703" fill="none" stroke="#000" stroke-width="2.5" stroke-dasharray="2.2 1.4"  style="stroke-linecap:butt"/>
<ellipse cx="958.4" cy="510.7" rx="3.3" ry="2.3" transform="rotate(10 958.4 510.7)" fill="#111" stroke="#000" stroke-width="1.2" />
<ellipse cx="916.7" cy="546.6" rx="3.3" ry="2.3" transform="rotate(10 916.7 546.6)" fill="#111" stroke="#000" stroke-width="1.2" />
<path d="M955.5,544.3 L974.5,526 Q977.5,523.5 980.5,526 L1056.5,596.5 Q1059.5,599.5 1057.5,603.5 L1040.5,623 Q1037.5,626 1033,624.8 Q1030,623.8 1027,621 L955.3,549 Q953,546.6 955.5,544.3Z" fill="none" stroke="#000" stroke-width="1.5" />
<text transform="translate(972.6,533.6) rotate(43.2)" x="0" y="0" font-family='"Liberation Sans", sans-serif' font-size="12.8" font-weight="bold" fill="#000" stroke="#000" stroke-width="0.45" textLength="53" lengthAdjust="spacingAndGlyphs">CAUTION</text>
<rect x="-5.5" y="-1.9" width="11" height="3.8" rx="1.9" transform="translate(990.6,628.4) rotate(36)" fill="#fff" stroke="#000" stroke-width="1.1"/>
<path d="M1008.5,549.5 Q1008.8,546 1012.3,546 Q1016,546 1016.4,549.5 L1019.6,610 Q1020,630 1013.6,653 L1008.4,651 Q1011.6,632 1011.2,611 Z" fill="#fff" stroke="#000" stroke-width="2.1" />
<path d="M1010.6,609 Q1008.3,609.5 1008.3,612.5 L1008.6,617.5 Q1009,619.5 1011,619" fill="#fff" stroke="#000" stroke-width="1.3" />
<path d="M995.3,716 L995.3,723 Q998,726 1000.8,723 L1000.8,718" fill="#fff" stroke="#000" stroke-width="1.6" />
<ellipse cx="343.5" cy="381.5" rx="5.5" ry="8.5" transform="rotate(-22 343.5 381.5)" fill="#fff" stroke="#000" stroke-width="1.6" />
<ellipse cx="338.6" cy="384.8" rx="8.6" ry="11.2" transform="rotate(-22 338.6 384.8)" fill="#fff" stroke="#000" stroke-width="2" />
<ellipse cx="338.2" cy="385.2" rx="4.4" ry="6.4" transform="rotate(-22 338.2 385.2)" fill="#111" stroke="#000" stroke-width="1.2" />
<path d="M343,373.5 L347,373.8" fill="none" stroke="#000" stroke-width="1.2" />
<ellipse cx="361.3" cy="374.2" rx="8.2" ry="10.4" transform="rotate(-22 361.3 374.2)" fill="#fff" stroke="#000" stroke-width="2" />
<ellipse cx="361.5" cy="374.4" rx="3.4" ry="4.8" transform="rotate(-22 361.5 374.4)" fill="none" stroke="#000" stroke-width="1.6" />
<path d="M215,447 L332,388.5" fill="none" stroke="#000" stroke-width="1.3" stroke-dasharray="52 5 5 5" style="stroke-linecap:butt"/>
<path d="M347.5,381 L353.5,378" fill="none" stroke="#000" stroke-width="1.3" />
<ellipse cx="486.6" cy="611.6" rx="11" ry="10.2" transform="rotate(-30 486.6 611.6)" fill="#fff" stroke="#000" stroke-width="2" />
<ellipse cx="486.3" cy="611.8" rx="9" ry="8.4" transform="rotate(-30 486.3 611.8)" fill="none" stroke="#000" stroke-width="1.3" />
<path d="M491.4,614.1 L486.3,618.9 L480.1,616.4 L479,609.1 L484.1,604.3 L490.3,606.8Z" fill="#fff" stroke="#000" stroke-width="1.6" />
<ellipse cx="483.4" cy="611.9" rx="3.3" ry="3.9" transform="rotate(-20 483.4 611.9)" fill="#111" stroke="#000" stroke-width="1.2" />
<ellipse cx="504.5" cy="598.2" rx="9.2" ry="11" transform="rotate(-25 504.5 598.2)" fill="#fff" stroke="#000" stroke-width="1.8" />
<ellipse cx="504.7" cy="598.4" rx="3.4" ry="4.8" transform="rotate(-25 504.7 598.4)" fill="none" stroke="#000" stroke-width="1.5" />
<path d="M493.5,606 L497.5,603.5" fill="none" stroke="#000" stroke-width="1.2" />
<ellipse cx="491.8" cy="458.8" rx="5.2" ry="5.8" transform="rotate(0 491.8 458.8)" fill="none" stroke="#000" stroke-width="1.2" stroke-dasharray="2 1.5"/>
<path d="M495.5,454 L513.5,444.5 L515.5,449 L497.5,459" fill="none" stroke="#000" stroke-width="1.2" stroke-dasharray="3 1.2" style="stroke-linecap:butt"/>
<ellipse cx="518.2" cy="444.3" rx="4.8" ry="6.2" transform="rotate(-20 518.2 444.3)" fill="none" stroke="#000" stroke-width="2.7" />
<path d="M523.5,441.5 L536,434.5" fill="none" stroke="#000" stroke-width="1.2" stroke-dasharray="6 2 1.5 2" style="stroke-linecap:butt"/>
<path d="M891.5,327 L901,322.2 L903,326.2 L893.5,331.2Z" fill="#fff" stroke="#000" stroke-width="1.2" />
<path d="M892.6,326.6 L894.6,330.8" fill="none" stroke="#000" stroke-width="1.1" />
<path d="M894.6,325.6 L896.6,329.8" fill="none" stroke="#000" stroke-width="1.1" />
<path d="M896.6,324.6 L898.6,328.8" fill="none" stroke="#000" stroke-width="1.1" />
<path d="M898.6,323.6 L900.6,327.8" fill="none" stroke="#000" stroke-width="1.1" />
<path d="M900.6,322.6 L902.6,326.8" fill="none" stroke="#000" stroke-width="1.1" />
<path d="M903,319 L909.5,316 L912.5,318.5 L913.5,323 L910,327 L905,327.5 Z" fill="#fff" stroke="#000" stroke-width="1.2" stroke-dasharray="2.2 1" style="stroke-linecap:butt"/>
<path d="M906,313.5 L909.5,316" fill="none" stroke="#000" stroke-width="1.6" />
<path d="M912.5,320.5 L918,318.4" fill="none" stroke="#000" stroke-width="2" />
<path d="M889,683.5 Q891.5,682 894,683.5 L894,695 L889,695Z" fill="#fff" stroke="#000" stroke-width="1.5" />
<path d="M889,686 L894,685.2" fill="none" stroke="#000" stroke-width="1.1" />
<path d="M889,688.4 L894,687.6" fill="none" stroke="#000" stroke-width="1.1" />
<path d="M889,690.8 L894,690" fill="none" stroke="#000" stroke-width="1.1" />
<path d="M889,693.2 L894,692.4" fill="none" stroke="#000" stroke-width="1.1" />
<path d="M886,694 Q878,690 873.5,696 Q871,701 875,702.3 Q882,702.5 887,698.5Z" fill="#fff" stroke="#000" stroke-width="1.8" />
<path d="M893.5,698.5 Q897,706 902,711 Q905,712 904.8,708 Q903,700 896.5,695.5Z" fill="#fff" stroke="#000" stroke-width="1.8" />
<ellipse cx="890.5" cy="696.2" rx="5.2" ry="3.2" transform="rotate(0 890.5 696.2)" fill="#fff" stroke="#000" stroke-width="1.7" />
<path d="M891.9,669.7 L891.5,682" fill="none" stroke="#000" stroke-width="1.2" stroke-dasharray="3 2" style="stroke-linecap:butt"/>
<path d="M847.6,590.5 L883.4,606" fill="none" stroke="#000" stroke-width="1.2" stroke-dasharray="16 3 3 3" style="stroke-linecap:butt"/>
<path d="M37.6,33 L117.6,452" fill="none" stroke="#000" stroke-width="1.2" />
<circle cx="117.6" cy="452" r="1.5" fill="#000"/>
<path d="M102.5,33 L160.5,429.5" fill="none" stroke="#000" stroke-width="1.2" />
<circle cx="160.5" cy="429.5" r="1.5" fill="#000"/>
<path d="M157,33 L255,355" fill="none" stroke="#000" stroke-width="1.2" />
<circle cx="255" cy="355" r="1.5" fill="#000"/>
<path d="M237.3,33 L335.2,371.2" fill="none" stroke="#000" stroke-width="1.2" />
<circle cx="335.2" cy="371.2" r="1.5" fill="#000"/>
<path d="M318,33 L420.5,334.3" fill="none" stroke="#000" stroke-width="1.2" />
<circle cx="420.5" cy="334.3" r="1.5" fill="#000"/>
<path d="M483,33 L551.3,203.8" fill="none" stroke="#000" stroke-width="1.2" />
<circle cx="551.3" cy="203.8" r="1.5" fill="#000"/>
<path d="M595.2,33 L703.3,303" fill="none" stroke="#000" stroke-width="1.2" />
<circle cx="703.3" cy="303" r="1.5" fill="#000"/>
<path d="M729.1,33 L763,234.7" fill="none" stroke="#000" stroke-width="1.2" />
<circle cx="763" cy="234.7" r="1.5" fill="#000"/>
<path d="M795,33 L795,102.6" fill="none" stroke="#000" stroke-width="1.2" />
<circle cx="795" cy="102.6" r="1.5" fill="#000"/>
<path d="M870.2,33 L885.4,76.6" fill="none" stroke="#000" stroke-width="1.2" />
<circle cx="885.4" cy="76.6" r="1.5" fill="#000"/>
<path d="M955.6,33 L919,99.6" fill="none" stroke="#000" stroke-width="1.2" />
<circle cx="919" cy="99.6" r="1.5" fill="#000"/>
<path d="M1018,297.7 L961,310" fill="none" stroke="#000" stroke-width="1.2" />
<path d="M961,310 L919.5,318.3" fill="none" stroke="#000" stroke-width="1.2" stroke-dasharray="5 2.2" style="stroke-linecap:butt"/>
<path d="M890,331 C887.5,332.7 880,337.6 875,341 C870,344.4 862.2,349.9 859.7,351.7" fill="none" stroke="#000" stroke-width="1.2" stroke-dasharray="3.5 2.5" style="stroke-linecap:butt"/>
<path d="M1137,884.5 L1049.6,616.4" fill="none" stroke="#000" stroke-width="1.2" />
<circle cx="1049.6" cy="616.4" r="1.5" fill="#000"/>
<path d="M911.6,884.5 L944,695.2" fill="none" stroke="#000" stroke-width="1.2" />
<circle cx="944" cy="695.2" r="1.5" fill="#000"/>
<path d="M859.8,884.5 L886.8,704.4" fill="none" stroke="#000" stroke-width="1.2" />
<circle cx="886.8" cy="704.4" r="1.5" fill="#000"/>
<path d="M602.3,654 L520.8,454.6" fill="none" stroke="#000" stroke-width="1.2" />
<circle cx="520.8" cy="454.6" r="1.5" fill="#000"/>
<path d="M558.2,653.5 L495.2,468.2" fill="none" stroke="#000" stroke-width="1.2" stroke-dasharray="7 1.6" style="stroke-linecap:butt"/>
<circle cx="495.2" cy="468.2" r="1.5" fill="#000"/>
<path d="M538.6,674 L510.4,611.8" fill="none" stroke="#000" stroke-width="1.2" />
<circle cx="510.4" cy="611.8" r="1.5" fill="#000"/>
<path d="M527,701 L492.5,619.4" fill="none" stroke="#000" stroke-width="1.2" />
<circle cx="492.5" cy="619.4" r="1.5" fill="#000"/>
<path d="M501,727 L366.7,384.8" fill="none" stroke="#000" stroke-width="1.2" />
<circle cx="366.7" cy="384.8" r="1.5" fill="#000"/>
<text transform="translate(0,29.8) scale(1.12,1)" x="28.2" y="0" font-family='"Liberation Sans", sans-serif' font-size="16.4" font-weight="bold" fill="#000">1</text>
<text transform="translate(0,29.8) scale(1.12,1)" x="87" y="0" font-family='"Liberation Sans", sans-serif' font-size="16.4" font-weight="bold" fill="#000">2</text>
<text transform="translate(0,29.8) scale(1.12,1)" x="135.1" y="0" font-family='"Liberation Sans", sans-serif' font-size="16.4" font-weight="bold" fill="#000">3</text>
<text transform="translate(0,29.8) scale(1.12,1)" x="206.7" y="0" font-family='"Liberation Sans", sans-serif' font-size="16.4" font-weight="bold" fill="#000">4</text>
<text transform="translate(0,29.8) scale(1.12,1)" x="278.8" y="0" font-family='"Liberation Sans", sans-serif' font-size="16.4" font-weight="bold" fill="#000">5</text>
<text transform="translate(0,29.8) scale(1.12,1)" x="426.7" y="0" font-family='"Liberation Sans", sans-serif' font-size="16.4" font-weight="bold" fill="#000">6</text>
<text transform="translate(0,29.8) scale(1.12,1)" x="526.7" y="0" font-family='"Liberation Sans", sans-serif' font-size="16.4" font-weight="bold" fill="#000">7</text>
<text transform="translate(0,29.8) scale(1.12,1)" x="645.9" y="0" font-family='"Liberation Sans", sans-serif' font-size="16.4" font-weight="bold" fill="#000">8</text>
<text transform="translate(0,29.8) scale(1.12,1)" x="705.3" y="0" font-family='"Liberation Sans", sans-serif' font-size="16.4" font-weight="bold" fill="#000">9</text>
<text transform="translate(0,29.8) scale(1.12,1)" x="766.2 774.6" y="0" font-family='"Liberation Sans", sans-serif' font-size="16.4" font-weight="bold" fill="#000">10</text>
<text transform="translate(0,29.8) scale(1.12,1)" x="845.5 852.6" y="0" font-family='"Liberation Sans", sans-serif' font-size="16.4" font-weight="bold" fill="#000">11</text>
<text transform="translate(0,302) scale(1.12,1)" x="905.7 914.2" y="0" font-family='"Liberation Sans", sans-serif' font-size="16.4" font-weight="bold" fill="#000">12</text>
<text transform="translate(0,900.6) scale(1.12,1)" x="1005.1 1013.6" y="0" font-family='"Liberation Sans", sans-serif' font-size="16.4" font-weight="bold" fill="#000">13</text>
<text transform="translate(0,900.6) scale(1.12,1)" x="804.4 812.9" y="0" font-family='"Liberation Sans", sans-serif' font-size="16.4" font-weight="bold" fill="#000">14</text>
<text transform="translate(0,900.6) scale(1.12,1)" x="756.8 765.3" y="0" font-family='"Liberation Sans", sans-serif' font-size="16.4" font-weight="bold" fill="#000">15</text>
<text transform="translate(0,669.7) scale(1.12,1)" x="528.1 536.5" y="0" font-family='"Liberation Sans", sans-serif' font-size="16.4" font-weight="bold" fill="#000">17</text>
<text transform="translate(0,669.7) scale(1.12,1)" x="488.8 497.2" y="0" font-family='"Liberation Sans", sans-serif' font-size="16.4" font-weight="bold" fill="#000">18</text>
<text transform="translate(0,690.2) scale(1.12,1)" x="472 480.4" y="0" font-family='"Liberation Sans", sans-serif' font-size="16.4" font-weight="bold" fill="#000">19</text>
<text transform="translate(0,716.6) scale(1.12,1)" x="467.4 474.5" y="0" font-family='"Liberation Sans", sans-serif' font-size="16.4" font-weight="bold" fill="#000">11</text>
<text transform="translate(0,744.2) scale(1.12,1)" x="438.7 447.1" y="0" font-family='"Liberation Sans", sans-serif' font-size="16.4" font-weight="bold" fill="#000">19</text>
<g class="wm">
<filter id="wmf" x="-2%" y="-10%" width="104%" height="120%"><feMorphology operator="dilate" radius="0.4 1.8"/></filter>
<text filter="url(#wmf)" transform="translate(0,502.6) scale(0.915,1)" x="323.3 411 483.7 538.8 590.6 651.8 733 786.2 860.8" y="0" font-family='"DejaVu Serif", "Liberation Serif", serif' font-size="120.5" font-weight="bold" fill="#cacaca">PartsTree</text>
<text x="848.5" y="428.2" font-family='"Liberation Sans", sans-serif' font-size="17.6" fill="#cfcfcf" textLength="26" lengthAdjust="spacingAndGlyphs">TM</text>
</g>
</svg>
</body></html>
